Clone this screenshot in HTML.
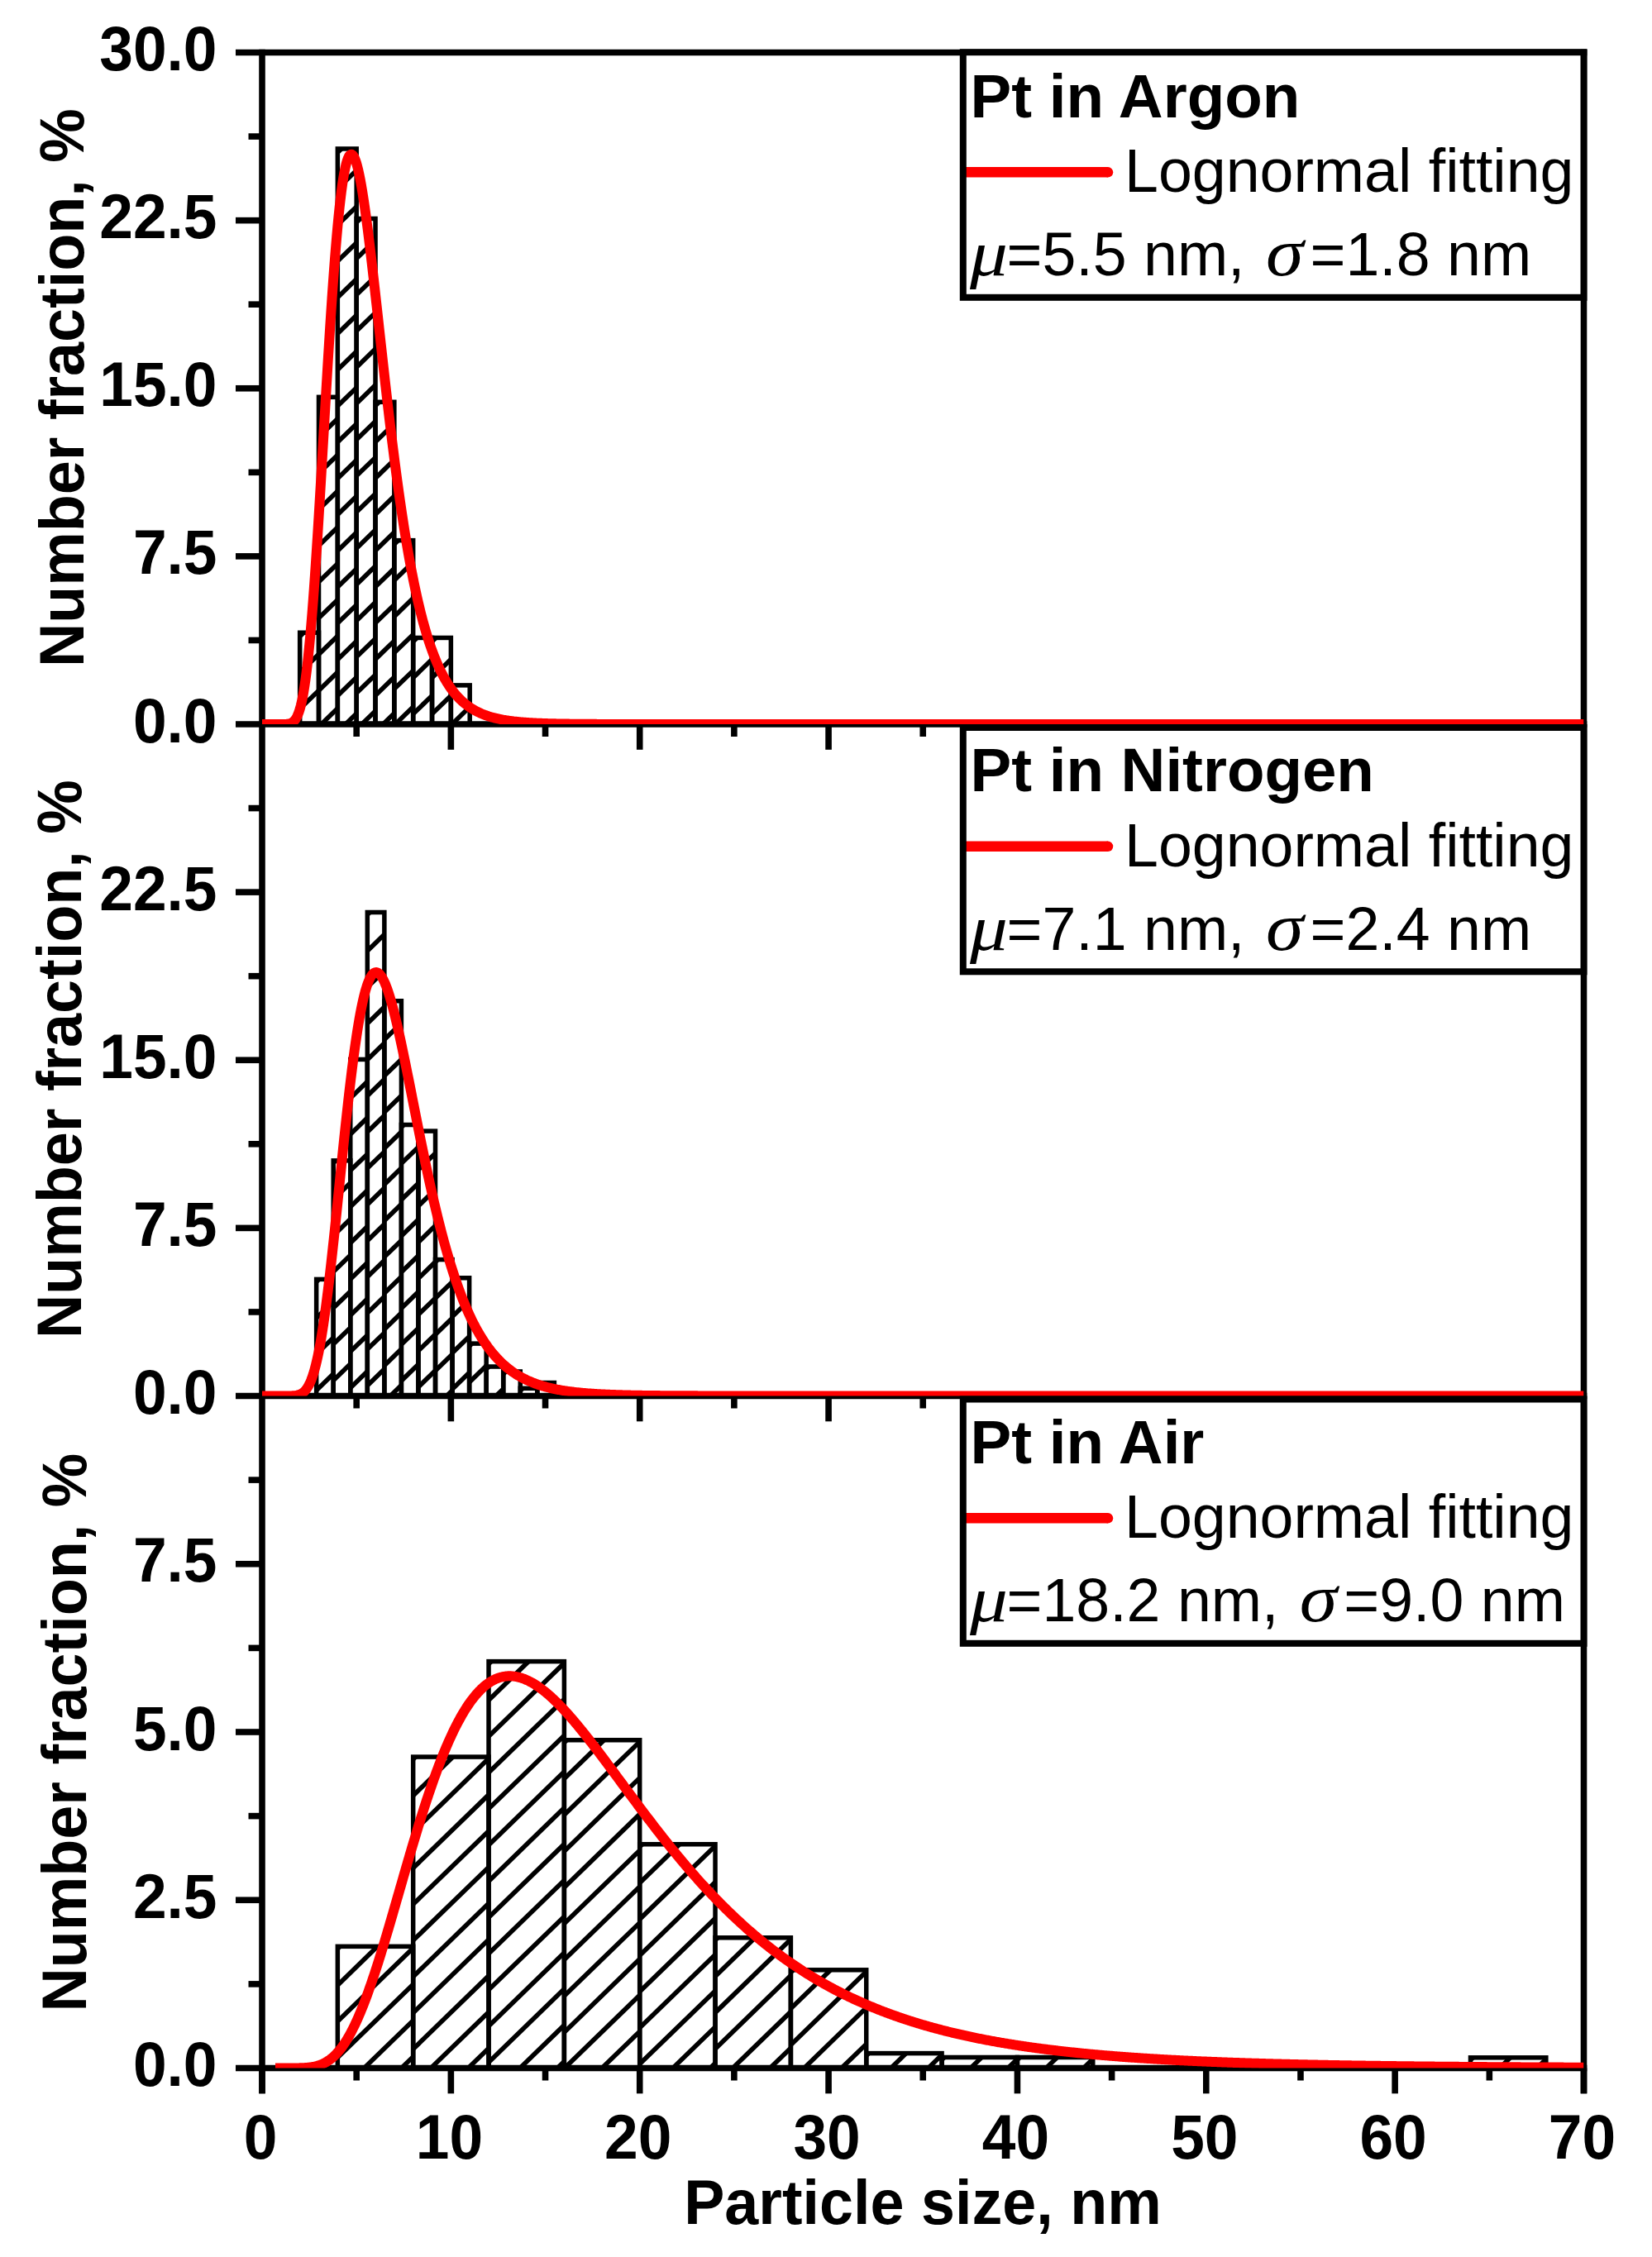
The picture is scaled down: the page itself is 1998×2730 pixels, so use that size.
<!DOCTYPE html>
<html lang="en"><head><meta charset="utf-8"><title>Pt particle size distributions</title>
<style>html,body{margin:0;padding:0;background:#fff}svg{display:block}</style></head>
<body>
<svg width="1998" height="2730" viewBox="0 0 1998 2730">
<rect width="1998" height="2730" fill="#fff"/>
<defs>
<clipPath id="cp0"><rect x="317.00" y="63.50" width="1598.50" height="812.50"/></clipPath>
<clipPath id="cp1"><rect x="317.00" y="876.00" width="1598.50" height="812.50"/></clipPath>
<clipPath id="cp2"><rect x="317.00" y="1688.50" width="1598.50" height="813.00"/></clipPath>
</defs>
<g stroke="#000" stroke-width="7.6" fill="none" stroke-linecap="butt">
<line x1="317.0" y1="59.7" x2="317.0" y2="2532.3"/>
<line x1="1915.5" y1="59.7" x2="1915.5" y2="2532.3"/>
<line x1="285.0" y1="63.5" x2="1919.3" y2="63.5"/>
<line x1="285.0" y1="876.0" x2="1919.3" y2="876.0"/>
<line x1="285.0" y1="672.88" x2="317.0" y2="672.88"/>
<line x1="285.0" y1="469.75" x2="317.0" y2="469.75"/>
<line x1="285.0" y1="266.62" x2="317.0" y2="266.62"/>
<line x1="300.5" y1="774.44" x2="317.0" y2="774.44"/>
<line x1="300.5" y1="571.31" x2="317.0" y2="571.31"/>
<line x1="300.5" y1="368.19" x2="317.0" y2="368.19"/>
<line x1="300.5" y1="165.06" x2="317.0" y2="165.06"/>
<line x1="431.18" y1="876.0" x2="431.18" y2="891.0"/>
<line x1="545.36" y1="876.0" x2="545.36" y2="906.8"/>
<line x1="659.54" y1="876.0" x2="659.54" y2="891.0"/>
<line x1="773.71" y1="876.0" x2="773.71" y2="906.8"/>
<line x1="887.89" y1="876.0" x2="887.89" y2="891.0"/>
<line x1="1002.07" y1="876.0" x2="1002.07" y2="906.8"/>
<line x1="1116.25" y1="876.0" x2="1116.25" y2="891.0"/>
<line x1="1230.43" y1="876.0" x2="1230.43" y2="906.8"/>
<line x1="1344.61" y1="876.0" x2="1344.61" y2="891.0"/>
<line x1="1458.79" y1="876.0" x2="1458.79" y2="906.8"/>
<line x1="1572.96" y1="876.0" x2="1572.96" y2="891.0"/>
<line x1="1687.14" y1="876.0" x2="1687.14" y2="906.8"/>
<line x1="1801.32" y1="876.0" x2="1801.32" y2="891.0"/>
<line x1="285.0" y1="1688.5" x2="1919.3" y2="1688.5"/>
<line x1="285.0" y1="1485.38" x2="317.0" y2="1485.38"/>
<line x1="285.0" y1="1282.25" x2="317.0" y2="1282.25"/>
<line x1="285.0" y1="1079.12" x2="317.0" y2="1079.12"/>
<line x1="300.5" y1="1586.94" x2="317.0" y2="1586.94"/>
<line x1="300.5" y1="1383.81" x2="317.0" y2="1383.81"/>
<line x1="300.5" y1="1180.69" x2="317.0" y2="1180.69"/>
<line x1="300.5" y1="977.56" x2="317.0" y2="977.56"/>
<line x1="431.18" y1="1688.5" x2="431.18" y2="1703.5"/>
<line x1="545.36" y1="1688.5" x2="545.36" y2="1719.3"/>
<line x1="659.54" y1="1688.5" x2="659.54" y2="1703.5"/>
<line x1="773.71" y1="1688.5" x2="773.71" y2="1719.3"/>
<line x1="887.89" y1="1688.5" x2="887.89" y2="1703.5"/>
<line x1="1002.07" y1="1688.5" x2="1002.07" y2="1719.3"/>
<line x1="1116.25" y1="1688.5" x2="1116.25" y2="1703.5"/>
<line x1="1230.43" y1="1688.5" x2="1230.43" y2="1719.3"/>
<line x1="1344.61" y1="1688.5" x2="1344.61" y2="1703.5"/>
<line x1="1458.79" y1="1688.5" x2="1458.79" y2="1719.3"/>
<line x1="1572.96" y1="1688.5" x2="1572.96" y2="1703.5"/>
<line x1="1687.14" y1="1688.5" x2="1687.14" y2="1719.3"/>
<line x1="1801.32" y1="1688.5" x2="1801.32" y2="1703.5"/>
<line x1="285.0" y1="2501.5" x2="1919.3" y2="2501.5"/>
<line x1="285.0" y1="2298.25" x2="317.0" y2="2298.25"/>
<line x1="285.0" y1="2095.00" x2="317.0" y2="2095.00"/>
<line x1="285.0" y1="1891.75" x2="317.0" y2="1891.75"/>
<line x1="300.5" y1="2399.88" x2="317.0" y2="2399.88"/>
<line x1="300.5" y1="2196.62" x2="317.0" y2="2196.62"/>
<line x1="300.5" y1="1993.38" x2="317.0" y2="1993.38"/>
<line x1="300.5" y1="1790.12" x2="317.0" y2="1790.12"/>
<line x1="317.00" y1="2501.5" x2="317.00" y2="2532.3"/>
<line x1="431.18" y1="2501.5" x2="431.18" y2="2516.5"/>
<line x1="545.36" y1="2501.5" x2="545.36" y2="2532.3"/>
<line x1="659.54" y1="2501.5" x2="659.54" y2="2516.5"/>
<line x1="773.71" y1="2501.5" x2="773.71" y2="2532.3"/>
<line x1="887.89" y1="2501.5" x2="887.89" y2="2516.5"/>
<line x1="1002.07" y1="2501.5" x2="1002.07" y2="2532.3"/>
<line x1="1116.25" y1="2501.5" x2="1116.25" y2="2516.5"/>
<line x1="1230.43" y1="2501.5" x2="1230.43" y2="2532.3"/>
<line x1="1344.61" y1="2501.5" x2="1344.61" y2="2516.5"/>
<line x1="1458.79" y1="2501.5" x2="1458.79" y2="2532.3"/>
<line x1="1572.96" y1="2501.5" x2="1572.96" y2="2516.5"/>
<line x1="1687.14" y1="2501.5" x2="1687.14" y2="2532.3"/>
<line x1="1801.32" y1="2501.5" x2="1801.32" y2="2516.5"/>
<line x1="1915.50" y1="2501.5" x2="1915.50" y2="2532.3"/>
</g>
<g clip-path="url(#cp0)">
<path d="M362.67 769.73L367.31 765.23M362.67 813.53L385.51 791.38M362.67 857.33L385.51 835.18M385.51 484.81L390.15 480.31M385.51 528.61L408.34 506.46M385.51 572.41L408.34 550.26M385.51 616.21L408.34 594.06M385.51 660.01L408.34 637.86M385.51 703.81L408.34 681.66M385.51 747.61L408.34 725.46M385.51 791.41L408.34 769.26M385.51 835.21L408.34 813.06M388.61 876.00L408.34 856.86M408.34 184.46L412.98 179.96M408.34 228.26L431.18 206.11M408.34 272.06L431.18 249.91M408.34 315.86L431.18 293.71M408.34 359.66L431.18 337.51M408.34 403.46L431.18 381.31M408.34 447.26L431.18 425.11M408.34 491.06L431.18 468.91M408.34 534.86L431.18 512.71M408.34 578.66L431.18 556.51M408.34 622.46L431.18 600.31M408.34 666.26L431.18 644.11M408.34 710.06L431.18 687.91M408.34 753.86L431.18 731.71M408.34 797.66L431.18 775.51M408.34 841.46L431.18 819.31M417.89 876.00L431.18 863.11M431.18 268.96L435.82 264.46M431.18 312.76L454.01 290.61M431.18 356.56L454.01 334.41M431.18 400.36L454.01 378.21M431.18 444.16L454.01 422.01M431.18 487.96L454.01 465.81M431.18 531.76L454.01 509.61M431.18 575.56L454.01 553.41M431.18 619.36L454.01 597.21M431.18 663.16L454.01 641.01M431.18 706.96L454.01 684.81M431.18 750.76L454.01 728.61M431.18 794.56L454.01 772.41M431.18 838.36L454.01 816.21M437.53 876.00L454.01 860.01M454.01 490.77L458.65 486.27M454.01 534.57L476.85 512.42M454.01 578.37L476.85 556.22M454.01 622.17L476.85 600.02M454.01 665.97L476.85 643.82M454.01 709.77L476.85 687.62M454.01 753.57L476.85 731.42M454.01 797.37L476.85 775.22M454.01 841.17L476.85 819.02M463.26 876.00L476.85 862.82M476.85 658.15L481.49 653.65M476.85 701.95L499.69 679.80M476.85 745.75L499.69 723.60M476.85 789.55L499.69 767.40M476.85 833.35L499.69 811.20M478.03 876.00L499.69 855.00M499.69 775.96L504.32 771.46M499.69 819.76L522.52 797.61M499.69 863.56L522.52 841.41M522.52 775.96L527.16 771.46M522.52 819.76L545.36 797.61M522.52 863.56L545.36 841.41M545.36 833.38L550.00 828.88M546.57 876.00L568.19 855.02" stroke="#000" stroke-width="5.6" fill="none" stroke-linecap="butt"/>
<g stroke="#000" stroke-width="5.5" fill="none" stroke-linejoin="miter"><rect x="362.67" y="765.23" width="22.84" height="110.77"/><rect x="385.51" y="480.31" width="22.84" height="395.69"/><rect x="408.34" y="179.96" width="22.84" height="696.04"/><rect x="431.18" y="264.46" width="22.84" height="611.54"/><rect x="454.01" y="486.27" width="22.84" height="389.73"/><rect x="476.85" y="653.65" width="22.84" height="222.35"/><rect x="499.69" y="771.46" width="22.84" height="104.54"/><rect x="522.52" y="771.46" width="22.84" height="104.54"/><rect x="545.36" y="828.88" width="22.84" height="47.12"/></g>
</g>
<g clip-path="url(#cp1)">
<path d="M382.65 1550.40L385.75 1547.40M382.65 1594.20L403.20 1574.26M382.65 1638.00L403.20 1618.06M382.65 1681.80L403.20 1661.86M403.20 1406.85L406.30 1403.85M403.20 1450.65L423.76 1430.72M403.20 1494.45L423.76 1474.52M403.20 1538.25L423.76 1518.32M403.20 1582.05L423.76 1562.12M403.20 1625.85L423.76 1605.92M403.20 1669.65L423.76 1649.72M423.76 1284.44L426.85 1281.44M423.76 1328.24L444.31 1308.30M423.76 1372.04L444.31 1352.10M423.76 1415.84L444.31 1395.90M423.76 1459.64L444.31 1439.70M423.76 1503.44L444.31 1483.50M423.76 1547.24L444.31 1527.30M423.76 1591.04L444.31 1571.10M423.76 1634.84L444.31 1614.90M423.76 1678.64L444.31 1658.70M444.31 1106.50L447.40 1103.50M444.31 1150.30L464.86 1130.36M444.31 1194.10L464.86 1174.16M444.31 1237.90L464.86 1217.96M444.31 1281.70L464.86 1261.76M444.31 1325.50L464.86 1305.56M444.31 1369.30L464.86 1349.36M444.31 1413.10L464.86 1393.16M444.31 1456.90L464.86 1436.96M444.31 1500.70L464.86 1480.76M444.31 1544.50L464.86 1524.56M444.31 1588.30L464.86 1568.36M444.31 1632.10L464.86 1612.16M444.31 1675.90L464.86 1655.96M464.86 1213.75L467.95 1210.75M464.86 1257.55L485.41 1237.61M464.86 1301.35L485.41 1281.41M464.86 1345.15L485.41 1325.21M464.86 1388.95L485.41 1369.01M464.86 1432.75L485.41 1412.81M464.86 1476.55L485.41 1456.61M464.86 1520.35L485.41 1500.41M464.86 1564.15L485.41 1544.21M464.86 1607.95L485.41 1588.01M464.86 1651.75L485.41 1631.81M472.13 1688.50L485.41 1675.61M485.41 1363.52L488.51 1360.52M485.41 1407.32L505.97 1387.39M485.41 1451.12L505.97 1431.19M485.41 1494.92L505.97 1474.99M485.41 1538.72L505.97 1518.79M485.41 1582.52L505.97 1562.59M485.41 1626.32L505.97 1606.39M485.41 1670.12L505.97 1650.19M505.97 1371.10L509.06 1368.10M505.97 1414.90L526.52 1394.97M505.97 1458.70L526.52 1438.77M505.97 1502.50L526.52 1482.57M505.97 1546.30L526.52 1526.37M505.97 1590.10L526.52 1570.17M505.97 1633.90L526.52 1613.97M505.97 1677.70L526.52 1657.77M526.52 1526.56L529.61 1523.56M526.52 1570.36L547.07 1550.43M526.52 1614.16L547.07 1594.23M526.52 1657.96L547.07 1638.03M540.19 1688.50L547.07 1681.83M547.07 1548.77L550.16 1545.77M547.07 1592.57L567.62 1572.64M547.07 1636.37L567.62 1616.44M547.07 1680.17L567.62 1660.24M567.62 1628.12L570.71 1625.12M567.62 1671.92L588.17 1651.99M588.17 1656.02L591.27 1653.02M599.85 1688.50L608.73 1679.89M608.73 1661.98L611.82 1658.98M626.54 1688.50L629.28 1685.84M629.28 1682.29L632.37 1679.29M649.83 1675.52L652.92 1672.52" stroke="#000" stroke-width="5.6" fill="none" stroke-linecap="butt"/>
<g stroke="#000" stroke-width="5.5" fill="none" stroke-linejoin="miter"><rect x="382.65" y="1547.40" width="20.55" height="141.10"/><rect x="403.20" y="1403.85" width="20.55" height="284.65"/><rect x="423.76" y="1281.44" width="20.55" height="407.06"/><rect x="444.31" y="1103.50" width="20.55" height="585.00"/><rect x="464.86" y="1210.75" width="20.55" height="477.75"/><rect x="485.41" y="1360.52" width="20.55" height="327.98"/><rect x="505.97" y="1368.10" width="20.55" height="320.40"/><rect x="526.52" y="1523.56" width="20.55" height="164.94"/><rect x="547.07" y="1545.77" width="20.55" height="142.73"/><rect x="567.62" y="1625.12" width="20.55" height="63.38"/><rect x="588.17" y="1653.02" width="20.55" height="35.48"/><rect x="608.73" y="1658.98" width="20.55" height="29.52"/><rect x="629.28" y="1679.29" width="20.55" height="9.21"/><rect x="649.83" y="1672.52" width="20.55" height="15.98"/></g>
</g>
<g clip-path="url(#cp2)">
<path d="M408.34 2357.35L411.44 2354.35M408.34 2401.15L456.59 2354.35M408.34 2444.95L499.69 2356.34M408.34 2488.75L499.69 2400.14M440.35 2501.50L499.69 2443.94M485.50 2501.50L499.69 2487.74M499.69 2128.08L502.78 2125.08M499.69 2171.88L547.93 2125.08M499.69 2215.68L591.03 2127.08M499.69 2259.48L591.03 2170.88M499.69 2303.28L591.03 2214.68M499.69 2347.08L591.03 2258.48M499.69 2390.88L591.03 2302.28M499.69 2434.68L591.03 2346.08M499.69 2478.48L591.03 2389.88M521.11 2501.50L591.03 2433.68M566.26 2501.50L591.03 2477.48M591.03 2012.63L594.12 2009.63M591.03 2056.43L639.28 2009.63M591.03 2100.24L682.37 2011.63M591.03 2144.03L682.37 2055.43M591.03 2187.84L682.37 2099.23M591.03 2231.64L682.37 2143.03M591.03 2275.43L682.37 2186.83M591.03 2319.24L682.37 2230.63M591.03 2363.03L682.37 2274.43M591.03 2406.84L682.37 2318.23M591.03 2450.64L682.37 2362.03M591.03 2494.43L682.37 2405.83M628.90 2501.50L682.37 2449.63M674.05 2501.50L682.37 2493.43M682.37 2107.76L685.46 2104.76M682.37 2151.56L730.62 2104.76M682.37 2195.36L773.71 2106.75M682.37 2239.16L773.71 2150.55M682.37 2282.96L773.71 2194.35M682.37 2326.76L773.71 2238.15M682.37 2370.56L773.71 2281.95M682.37 2414.36L773.71 2325.75M682.37 2458.16L773.71 2369.55M682.84 2501.50L773.71 2413.35M728.00 2501.50L773.71 2457.15M773.15 2501.50L773.71 2500.95M773.71 2233.77L776.81 2230.77M773.71 2277.57L821.96 2230.77M773.71 2321.37L865.06 2232.77M773.71 2365.17L865.06 2276.57M773.71 2408.97L865.06 2320.37M773.71 2452.77L865.06 2364.17M773.71 2496.57L865.06 2407.97M813.79 2501.50L865.06 2451.77M858.94 2501.50L865.06 2495.57M865.06 2346.78L868.15 2343.78M865.06 2390.58L913.30 2343.78M865.06 2434.38L956.40 2345.78M865.06 2478.18L956.40 2389.58M886.17 2501.50L956.40 2433.38M931.32 2501.50L956.40 2477.18M956.40 2385.80L959.49 2382.80M956.40 2429.60L1004.65 2382.80M956.40 2473.40L1047.74 2384.80M972.59 2501.50L1047.74 2428.60M1017.74 2501.50L1047.74 2472.40M1047.74 2486.61L1050.84 2483.61M1077.55 2501.50L1095.99 2483.61M1122.71 2501.50L1139.09 2485.61M1139.09 2491.49L1142.18 2488.49M1173.92 2501.50L1187.33 2488.49M1219.08 2501.50L1230.43 2490.49M1230.43 2491.49L1233.52 2488.49M1265.27 2501.50L1278.68 2488.49M1310.42 2501.50L1321.77 2490.49M1778.49 2491.82L1781.58 2488.82M1813.66 2501.50L1826.73 2488.82M1858.81 2501.50L1869.83 2490.81" stroke="#000" stroke-width="5.6" fill="none" stroke-linecap="butt"/>
<g stroke="#000" stroke-width="5.5" fill="none" stroke-linejoin="miter"><rect x="408.34" y="2354.35" width="91.34" height="147.15"/><rect x="499.69" y="2125.08" width="91.34" height="376.42"/><rect x="591.03" y="2009.63" width="91.34" height="491.87"/><rect x="682.37" y="2104.76" width="91.34" height="396.74"/><rect x="773.71" y="2230.77" width="91.34" height="270.73"/><rect x="865.06" y="2343.78" width="91.34" height="157.72"/><rect x="956.40" y="2382.80" width="91.34" height="118.70"/><rect x="1047.74" y="2483.61" width="91.34" height="17.89"/><rect x="1139.09" y="2488.49" width="91.34" height="13.01"/><rect x="1230.43" y="2488.49" width="91.34" height="13.01"/><rect x="1778.49" y="2488.82" width="91.34" height="12.68"/></g>
</g>
<polyline clip-path="url(#cp0)" points="317.00,876.00 318.14,876.00 319.28,876.00 320.43,876.00 321.57,876.00 322.71,876.00 323.85,876.00 324.99,876.00 326.13,876.00 327.28,876.00 328.42,876.00 329.56,876.00 330.70,876.00 331.84,876.00 332.99,876.00 334.13,876.00 335.27,876.00 336.41,876.00 337.55,876.00 338.69,876.00 339.84,876.00 340.98,875.99 342.12,875.98 343.26,875.96 344.40,875.93 345.54,875.88 346.69,875.81 347.83,875.69 348.97,875.52 350.11,875.27 351.25,874.92 352.40,874.45 353.54,873.82 354.68,872.98 355.82,871.91 356.96,870.55 358.10,868.86 359.25,866.77 360.39,864.25 361.53,861.22 362.67,857.64 363.81,853.46 364.95,848.61 366.10,843.06 367.24,836.75 368.38,829.65 369.52,821.74 370.66,812.97 371.81,803.34 372.95,792.83 374.09,781.45 375.23,769.21 376.37,756.11 377.51,742.18 378.66,727.45 379.80,711.97 380.94,695.79 382.08,678.94 383.22,661.50 384.37,643.53 385.51,625.10 386.65,606.28 387.79,587.15 388.93,567.78 390.07,548.26 391.22,528.66 392.36,509.06 393.50,489.54 394.64,470.17 395.78,451.04 396.93,432.22 398.07,413.76 399.21,395.74 400.35,378.23 401.49,361.26 402.63,344.91 403.78,329.22 404.92,314.22 406.06,299.97 407.20,286.48 408.34,273.81 409.48,261.96 410.63,250.95 411.77,240.81 412.91,231.55 414.05,223.17 415.19,215.67 416.34,209.05 417.48,203.32 418.62,198.46 419.76,194.45 420.90,191.30 422.04,188.98 423.19,187.47 424.33,186.75 425.47,186.80 426.61,187.60 427.75,189.12 428.89,191.33 430.04,194.20 431.18,197.72 432.32,201.84 433.46,206.53 434.60,211.78 435.75,217.53 436.89,223.78 438.03,230.48 439.17,237.60 440.31,245.13 441.45,253.01 442.60,261.24 443.74,269.77 444.88,278.58 446.02,287.65 447.16,296.95 448.31,306.45 449.45,316.13 450.59,325.96 451.73,335.92 452.87,346.00 454.01,356.16 455.16,366.40 456.30,376.68 457.44,387.00 458.58,397.33 459.72,407.66 460.87,417.98 462.01,428.27 463.15,438.51 464.29,448.70 465.43,458.82 466.57,468.86 467.72,478.81 468.86,488.67 470.00,498.41 471.14,508.05 472.28,517.56 473.42,526.94 474.57,536.20 475.71,545.31 476.85,554.27 477.99,563.09 479.13,571.76 480.28,580.27 481.42,588.63 482.56,596.82 483.70,604.86 484.84,612.73 485.98,620.44 487.13,627.98 488.27,635.36 489.41,642.57 490.55,649.62 491.69,656.51 492.84,663.23 493.98,669.79 495.12,676.19 496.26,682.43 497.40,688.51 498.54,694.44 499.69,700.21 500.83,705.83 501.97,711.29 503.11,716.61 504.25,721.79 505.39,726.82 506.54,731.71 507.68,736.46 508.82,741.07 509.96,745.55 511.10,749.90 512.25,754.13 513.39,758.22 514.53,762.20 515.67,766.05 516.81,769.79 517.95,773.41 519.10,776.92 520.24,780.33 521.38,783.62 522.52,786.81 523.66,789.91 524.80,792.90 525.95,795.80 527.09,798.60 528.23,801.31 529.37,803.94 530.51,806.47 531.66,808.93 532.80,811.30 533.94,813.60 535.08,815.82 536.22,817.96 537.36,820.04 538.51,822.04 539.65,823.97 540.79,825.84 541.93,827.65 543.07,829.39 544.22,831.07 545.36,832.70 546.50,834.27 547.64,835.78 548.78,837.24 549.92,838.65 551.07,840.02 552.21,841.33 553.35,842.60 554.49,843.82 555.63,845.00 556.77,846.14 557.92,847.23 559.06,848.29 560.20,849.31 561.34,850.30 562.48,851.24 563.63,852.16 564.77,853.04 565.91,853.89 567.05,854.71 568.19,855.50 569.33,856.26 570.48,856.99 571.62,857.70 572.76,858.38 573.90,859.03 575.04,859.66 576.19,860.27 577.33,860.86 578.47,861.42 579.61,861.97 580.75,862.49 581.89,863.00 583.04,863.48 584.18,863.95 585.32,864.40 586.46,864.83 587.60,865.25 588.75,865.66 589.89,866.04 591.03,866.42 592.17,866.77 593.31,867.12 594.45,867.45 595.60,867.77 596.74,868.08 597.88,868.38 599.02,868.67 600.16,868.94 601.30,869.21 602.45,869.46 603.59,869.71 604.73,869.94 605.87,870.17 607.01,870.39 608.16,870.60 609.30,870.80 610.44,871.00 611.58,871.19 612.72,871.37 613.86,871.54 615.01,871.71 616.15,871.87 617.29,872.03 618.43,872.17 619.57,872.32 620.72,872.46 621.86,872.59 623.00,872.72 624.14,872.84 625.28,872.96 626.42,873.07 627.57,873.18 628.71,873.29 629.85,873.39 630.99,873.49 632.13,873.58 633.27,873.67 634.42,873.76 635.56,873.84 636.70,873.92 637.84,874.00 638.98,874.08 640.13,874.15 641.27,874.22 642.41,874.28 643.55,874.35 644.69,874.41 645.83,874.47 646.98,874.53 648.12,874.58 649.26,874.63 650.40,874.69 651.54,874.73 652.68,874.78 653.83,874.83 654.97,874.87 656.11,874.91 657.25,874.95 658.39,874.99 659.54,875.03 660.68,875.07 661.82,875.10 662.96,875.13 664.10,875.17 665.24,875.20 666.39,875.23 667.53,875.26 668.67,875.28 669.81,875.31 670.95,875.34 672.10,875.36 673.24,875.38 674.38,875.41 675.52,875.43 676.66,875.45 677.80,875.47 678.95,875.49 680.09,875.51 681.23,875.53 682.37,875.54 683.51,875.56 684.65,875.58 685.80,875.59 686.94,875.61 688.08,875.62 689.22,875.64 690.36,875.65 691.51,875.66 692.65,875.67 693.79,875.69 694.93,875.70 696.07,875.71 697.21,875.72 698.36,875.73 699.50,875.74 700.64,875.75 701.78,875.76 702.92,875.77 704.07,875.78 705.21,875.78 706.35,875.79 707.49,875.80 708.63,875.81 709.77,875.81 710.92,875.82 712.06,875.83 713.20,875.83 714.34,875.84 715.48,875.84 716.62,875.85 717.77,875.86 718.91,875.86 720.05,875.87 721.19,875.87 722.33,875.88 723.48,875.88 724.62,875.88 725.76,875.89 726.90,875.89 728.04,875.90 729.18,875.90 730.33,875.90 731.47,875.91 732.61,875.91 733.75,875.91 734.89,875.92 736.04,875.92 737.18,875.92 738.32,875.93 739.46,875.93 740.60,875.93 741.74,875.93 742.89,875.94 744.03,875.94 745.17,875.94 746.31,875.94 747.45,875.94 748.60,875.95 749.74,875.95 750.88,875.95 752.02,875.95 753.16,875.95 754.30,875.95 755.45,875.96 756.59,875.96 757.73,875.96 758.87,875.96 760.01,875.96 761.15,875.96 762.30,875.96 763.44,875.97 764.58,875.97 765.72,875.97 766.86,875.97 768.01,875.97 769.15,875.97 770.29,875.97 771.43,875.97 772.57,875.97 773.71,875.98 774.86,875.98 776.00,875.98 777.14,875.98 778.28,875.98 779.42,875.98 780.57,875.98 781.71,875.98 782.85,875.98 783.99,875.98 785.13,875.98 786.27,875.98 787.42,875.98 788.56,875.98 789.70,875.98 790.84,875.99 791.98,875.99 793.12,875.99 794.27,875.99 795.41,875.99 796.55,875.99 797.69,875.99 798.83,875.99 799.98,875.99 801.12,875.99 802.26,875.99 803.40,875.99 804.54,875.99 805.68,875.99 806.83,875.99 807.97,875.99 809.11,875.99 810.25,875.99 811.39,875.99 812.53,875.99 813.68,875.99 814.82,875.99 815.96,875.99 817.10,875.99 818.24,875.99 819.39,875.99 820.53,875.99 821.67,875.99 822.81,875.99 823.95,875.99 825.09,875.99 826.24,876.00 827.38,876.00 828.52,876.00 829.66,876.00 830.80,876.00 831.95,876.00 833.09,876.00 834.23,876.00 835.37,876.00 836.51,876.00 837.65,876.00 838.80,876.00 839.94,876.00 841.08,876.00 842.22,876.00 843.36,876.00 844.50,876.00 845.65,876.00 846.79,876.00 847.93,876.00 849.07,876.00 850.21,876.00 851.36,876.00 852.50,876.00 853.64,876.00 854.78,876.00 855.92,876.00 857.06,876.00 858.21,876.00 859.35,876.00 860.49,876.00 861.63,876.00 862.77,876.00 863.92,876.00 865.06,876.00 866.20,876.00 867.34,876.00 868.48,876.00 869.62,876.00 870.77,876.00 871.91,876.00 873.05,876.00 874.19,876.00 875.33,876.00 876.48,876.00 877.62,876.00 878.76,876.00 879.90,876.00 881.04,876.00 882.18,876.00 883.33,876.00 884.47,876.00 885.61,876.00 886.75,876.00 887.89,876.00 889.03,876.00 890.18,876.00 891.32,876.00 892.46,876.00 893.60,876.00 894.74,876.00 895.89,876.00 897.03,876.00 898.17,876.00 899.31,876.00 900.45,876.00 901.59,876.00 902.74,876.00 903.88,876.00 905.02,876.00 906.16,876.00 907.30,876.00 908.44,876.00 909.59,876.00 910.73,876.00 911.87,876.00 913.01,876.00 914.15,876.00 915.30,876.00 916.44,876.00 917.58,876.00 918.72,876.00 919.86,876.00 921.00,876.00 922.15,876.00 923.29,876.00 924.43,876.00 925.57,876.00 926.71,876.00 927.86,876.00 929.00,876.00 930.14,876.00 931.28,876.00 932.42,876.00 933.56,876.00 934.71,876.00 935.85,876.00 936.99,876.00 938.13,876.00 939.27,876.00 940.41,876.00 941.56,876.00 942.70,876.00 943.84,876.00 944.98,876.00 946.12,876.00 947.27,876.00 948.41,876.00 949.55,876.00 950.69,876.00 951.83,876.00 952.97,876.00 954.12,876.00 955.26,876.00 956.40,876.00 957.54,876.00 958.68,876.00 959.83,876.00 960.97,876.00 962.11,876.00 963.25,876.00 964.39,876.00 965.53,876.00 966.68,876.00 967.82,876.00 968.96,876.00 970.10,876.00 971.24,876.00 972.38,876.00 973.53,876.00 974.67,876.00 975.81,876.00 976.95,876.00 978.09,876.00 979.24,876.00 980.38,876.00 981.52,876.00 982.66,876.00 983.80,876.00 984.94,876.00 986.09,876.00 987.23,876.00 988.37,876.00 989.51,876.00 990.65,876.00 991.80,876.00 992.94,876.00 994.08,876.00 995.22,876.00 996.36,876.00 997.50,876.00 998.65,876.00 999.79,876.00 1000.93,876.00 1002.07,876.00 1003.21,876.00 1004.36,876.00 1005.50,876.00 1006.64,876.00 1007.78,876.00 1008.92,876.00 1010.06,876.00 1011.21,876.00 1012.35,876.00 1013.49,876.00 1014.63,876.00 1015.77,876.00 1016.91,876.00 1018.06,876.00 1019.20,876.00 1020.34,876.00 1021.48,876.00 1022.62,876.00 1023.77,876.00 1024.91,876.00 1026.05,876.00 1027.19,876.00 1028.33,876.00 1029.47,876.00 1030.62,876.00 1031.76,876.00 1032.90,876.00 1034.04,876.00 1035.18,876.00 1036.33,876.00 1037.47,876.00 1038.61,876.00 1039.75,876.00 1040.89,876.00 1042.03,876.00 1043.18,876.00 1044.32,876.00 1045.46,876.00 1046.60,876.00 1047.74,876.00 1048.88,876.00 1050.03,876.00 1051.17,876.00 1052.31,876.00 1053.45,876.00 1054.59,876.00 1055.74,876.00 1056.88,876.00 1058.02,876.00 1059.16,876.00 1060.30,876.00 1061.44,876.00 1062.59,876.00 1063.73,876.00 1064.87,876.00 1066.01,876.00 1067.15,876.00 1068.30,876.00 1069.44,876.00 1070.58,876.00 1071.72,876.00 1072.86,876.00 1074.00,876.00 1075.15,876.00 1076.29,876.00 1077.43,876.00 1078.57,876.00 1079.71,876.00 1080.85,876.00 1082.00,876.00 1083.14,876.00 1084.28,876.00 1085.42,876.00 1086.56,876.00 1087.71,876.00 1088.85,876.00 1089.99,876.00 1091.13,876.00 1092.27,876.00 1093.41,876.00 1094.56,876.00 1095.70,876.00 1096.84,876.00 1097.98,876.00 1099.12,876.00 1100.26,876.00 1101.41,876.00 1102.55,876.00 1103.69,876.00 1104.83,876.00 1105.97,876.00 1107.12,876.00 1108.26,876.00 1109.40,876.00 1110.54,876.00 1111.68,876.00 1112.82,876.00 1113.97,876.00 1115.11,876.00 1116.25,876.00 1117.39,876.00 1118.53,876.00 1119.68,876.00 1120.82,876.00 1121.96,876.00 1123.10,876.00 1124.24,876.00 1125.38,876.00 1126.53,876.00 1127.67,876.00 1128.81,876.00 1129.95,876.00 1131.09,876.00 1132.24,876.00 1133.38,876.00 1134.52,876.00 1135.66,876.00 1136.80,876.00 1137.94,876.00 1139.09,876.00 1140.23,876.00 1141.37,876.00 1142.51,876.00 1143.65,876.00 1144.79,876.00 1145.94,876.00 1147.08,876.00 1148.22,876.00 1149.36,876.00 1150.50,876.00 1151.65,876.00 1152.79,876.00 1153.93,876.00 1155.07,876.00 1156.21,876.00 1157.35,876.00 1158.50,876.00 1159.64,876.00 1160.78,876.00 1161.92,876.00 1163.06,876.00 1164.20,876.00 1165.35,876.00 1166.49,876.00 1167.63,876.00 1168.77,876.00 1169.91,876.00 1171.06,876.00 1172.20,876.00 1173.34,876.00 1174.48,876.00 1175.62,876.00 1176.76,876.00 1177.91,876.00 1179.05,876.00 1180.19,876.00 1181.33,876.00 1182.47,876.00 1183.62,876.00 1184.76,876.00 1185.90,876.00 1187.04,876.00 1188.18,876.00 1189.32,876.00 1190.47,876.00 1191.61,876.00 1192.75,876.00 1193.89,876.00 1195.03,876.00 1196.17,876.00 1197.32,876.00 1198.46,876.00 1199.60,876.00 1200.74,876.00 1201.88,876.00 1203.03,876.00 1204.17,876.00 1205.31,876.00 1206.45,876.00 1207.59,876.00 1208.73,876.00 1209.88,876.00 1211.02,876.00 1212.16,876.00 1213.30,876.00 1214.44,876.00 1215.59,876.00 1216.73,876.00 1217.87,876.00 1219.01,876.00 1220.15,876.00 1221.29,876.00 1222.44,876.00 1223.58,876.00 1224.72,876.00 1225.86,876.00 1227.00,876.00 1228.14,876.00 1229.29,876.00 1230.43,876.00 1231.57,876.00 1232.71,876.00 1233.85,876.00 1235.00,876.00 1236.14,876.00 1237.28,876.00 1238.42,876.00 1239.56,876.00 1240.70,876.00 1241.85,876.00 1242.99,876.00 1244.13,876.00 1245.27,876.00 1246.41,876.00 1247.56,876.00 1248.70,876.00 1249.84,876.00 1250.98,876.00 1252.12,876.00 1253.26,876.00 1254.41,876.00 1255.55,876.00 1256.69,876.00 1257.83,876.00 1258.97,876.00 1260.11,876.00 1261.26,876.00 1262.40,876.00 1263.54,876.00 1264.68,876.00 1265.82,876.00 1266.97,876.00 1268.11,876.00 1269.25,876.00 1270.39,876.00 1271.53,876.00 1272.67,876.00 1273.82,876.00 1274.96,876.00 1276.10,876.00 1277.24,876.00 1278.38,876.00 1279.53,876.00 1280.67,876.00 1281.81,876.00 1282.95,876.00 1284.09,876.00 1285.23,876.00 1286.38,876.00 1287.52,876.00 1288.66,876.00 1289.80,876.00 1290.94,876.00 1292.09,876.00 1293.23,876.00 1294.37,876.00 1295.51,876.00 1296.65,876.00 1297.79,876.00 1298.94,876.00 1300.08,876.00 1301.22,876.00 1302.36,876.00 1303.50,876.00 1304.64,876.00 1305.79,876.00 1306.93,876.00 1308.07,876.00 1309.21,876.00 1310.35,876.00 1311.50,876.00 1312.64,876.00 1313.78,876.00 1314.92,876.00 1316.06,876.00 1317.20,876.00 1318.35,876.00 1319.49,876.00 1320.63,876.00 1321.77,876.00 1322.91,876.00 1324.06,876.00 1325.20,876.00 1326.34,876.00 1327.48,876.00 1328.62,876.00 1329.76,876.00 1330.91,876.00 1332.05,876.00 1333.19,876.00 1334.33,876.00 1335.47,876.00 1336.61,876.00 1337.76,876.00 1338.90,876.00 1340.04,876.00 1341.18,876.00 1342.32,876.00 1343.47,876.00 1344.61,876.00 1345.75,876.00 1346.89,876.00 1348.03,876.00 1349.17,876.00 1350.32,876.00 1351.46,876.00 1352.60,876.00 1353.74,876.00 1354.88,876.00 1356.03,876.00 1357.17,876.00 1358.31,876.00 1359.45,876.00 1360.59,876.00 1361.73,876.00 1362.88,876.00 1364.02,876.00 1365.16,876.00 1366.30,876.00 1367.44,876.00 1368.58,876.00 1369.73,876.00 1370.87,876.00 1372.01,876.00 1373.15,876.00 1374.29,876.00 1375.44,876.00 1376.58,876.00 1377.72,876.00 1378.86,876.00 1380.00,876.00 1381.14,876.00 1382.29,876.00 1383.43,876.00 1384.57,876.00 1385.71,876.00 1386.85,876.00 1387.99,876.00 1389.14,876.00 1390.28,876.00 1391.42,876.00 1392.56,876.00 1393.70,876.00 1394.85,876.00 1395.99,876.00 1397.13,876.00 1398.27,876.00 1399.41,876.00 1400.55,876.00 1401.70,876.00 1402.84,876.00 1403.98,876.00 1405.12,876.00 1406.26,876.00 1407.41,876.00 1408.55,876.00 1409.69,876.00 1410.83,876.00 1411.97,876.00 1413.11,876.00 1414.26,876.00 1415.40,876.00 1416.54,876.00 1417.68,876.00 1418.82,876.00 1419.96,876.00 1421.11,876.00 1422.25,876.00 1423.39,876.00 1424.53,876.00 1425.67,876.00 1426.82,876.00 1427.96,876.00 1429.10,876.00 1430.24,876.00 1431.38,876.00 1432.52,876.00 1433.67,876.00 1434.81,876.00 1435.95,876.00 1437.09,876.00 1438.23,876.00 1439.38,876.00 1440.52,876.00 1441.66,876.00 1442.80,876.00 1443.94,876.00 1445.08,876.00 1446.23,876.00 1447.37,876.00 1448.51,876.00 1449.65,876.00 1450.79,876.00 1451.93,876.00 1453.08,876.00 1454.22,876.00 1455.36,876.00 1456.50,876.00 1457.64,876.00 1458.79,876.00 1459.93,876.00 1461.07,876.00 1462.21,876.00 1463.35,876.00 1464.49,876.00 1465.64,876.00 1466.78,876.00 1467.92,876.00 1469.06,876.00 1470.20,876.00 1471.35,876.00 1472.49,876.00 1473.63,876.00 1474.77,876.00 1475.91,876.00 1477.05,876.00 1478.20,876.00 1479.34,876.00 1480.48,876.00 1481.62,876.00 1482.76,876.00 1483.90,876.00 1485.05,876.00 1486.19,876.00 1487.33,876.00 1488.47,876.00 1489.61,876.00 1490.76,876.00 1491.90,876.00 1493.04,876.00 1494.18,876.00 1495.32,876.00 1496.46,876.00 1497.61,876.00 1498.75,876.00 1499.89,876.00 1501.03,876.00 1502.17,876.00 1503.32,876.00 1504.46,876.00 1505.60,876.00 1506.74,876.00 1507.88,876.00 1509.02,876.00 1510.17,876.00 1511.31,876.00 1512.45,876.00 1513.59,876.00 1514.73,876.00 1515.88,876.00 1517.02,876.00 1518.16,876.00 1519.30,876.00 1520.44,876.00 1521.58,876.00 1522.73,876.00 1523.87,876.00 1525.01,876.00 1526.15,876.00 1527.29,876.00 1528.43,876.00 1529.58,876.00 1530.72,876.00 1531.86,876.00 1533.00,876.00 1534.14,876.00 1535.29,876.00 1536.43,876.00 1537.57,876.00 1538.71,876.00 1539.85,876.00 1540.99,876.00 1542.14,876.00 1543.28,876.00 1544.42,876.00 1545.56,876.00 1546.70,876.00 1547.85,876.00 1548.99,876.00 1550.13,876.00 1551.27,876.00 1552.41,876.00 1553.55,876.00 1554.70,876.00 1555.84,876.00 1556.98,876.00 1558.12,876.00 1559.26,876.00 1560.40,876.00 1561.55,876.00 1562.69,876.00 1563.83,876.00 1564.97,876.00 1566.11,876.00 1567.26,876.00 1568.40,876.00 1569.54,876.00 1570.68,876.00 1571.82,876.00 1572.96,876.00 1574.11,876.00 1575.25,876.00 1576.39,876.00 1577.53,876.00 1578.67,876.00 1579.81,876.00 1580.96,876.00 1582.10,876.00 1583.24,876.00 1584.38,876.00 1585.52,876.00 1586.67,876.00 1587.81,876.00 1588.95,876.00 1590.09,876.00 1591.23,876.00 1592.37,876.00 1593.52,876.00 1594.66,876.00 1595.80,876.00 1596.94,876.00 1598.08,876.00 1599.23,876.00 1600.37,876.00 1601.51,876.00 1602.65,876.00 1603.79,876.00 1604.93,876.00 1606.08,876.00 1607.22,876.00 1608.36,876.00 1609.50,876.00 1610.64,876.00 1611.79,876.00 1612.93,876.00 1614.07,876.00 1615.21,876.00 1616.35,876.00 1617.49,876.00 1618.64,876.00 1619.78,876.00 1620.92,876.00 1622.06,876.00 1623.20,876.00 1624.34,876.00 1625.49,876.00 1626.63,876.00 1627.77,876.00 1628.91,876.00 1630.05,876.00 1631.20,876.00 1632.34,876.00 1633.48,876.00 1634.62,876.00 1635.76,876.00 1636.90,876.00 1638.05,876.00 1639.19,876.00 1640.33,876.00 1641.47,876.00 1642.61,876.00 1643.76,876.00 1644.90,876.00 1646.04,876.00 1647.18,876.00 1648.32,876.00 1649.46,876.00 1650.61,876.00 1651.75,876.00 1652.89,876.00 1654.03,876.00 1655.17,876.00 1656.31,876.00 1657.46,876.00 1658.60,876.00 1659.74,876.00 1660.88,876.00 1662.02,876.00 1663.17,876.00 1664.31,876.00 1665.45,876.00 1666.59,876.00 1667.73,876.00 1668.87,876.00 1670.02,876.00 1671.16,876.00 1672.30,876.00 1673.44,876.00 1674.58,876.00 1675.72,876.00 1676.87,876.00 1678.01,876.00 1679.15,876.00 1680.29,876.00 1681.43,876.00 1682.58,876.00 1683.72,876.00 1684.86,876.00 1686.00,876.00 1687.14,876.00 1688.28,876.00 1689.43,876.00 1690.57,876.00 1691.71,876.00 1692.85,876.00 1693.99,876.00 1695.14,876.00 1696.28,876.00 1697.42,876.00 1698.56,876.00 1699.70,876.00 1700.84,876.00 1701.99,876.00 1703.13,876.00 1704.27,876.00 1705.41,876.00 1706.55,876.00 1707.69,876.00 1708.84,876.00 1709.98,876.00 1711.12,876.00 1712.26,876.00 1713.40,876.00 1714.55,876.00 1715.69,876.00 1716.83,876.00 1717.97,876.00 1719.11,876.00 1720.25,876.00 1721.40,876.00 1722.54,876.00 1723.68,876.00 1724.82,876.00 1725.96,876.00 1727.11,876.00 1728.25,876.00 1729.39,876.00 1730.53,876.00 1731.67,876.00 1732.81,876.00 1733.96,876.00 1735.10,876.00 1736.24,876.00 1737.38,876.00 1738.52,876.00 1739.66,876.00 1740.81,876.00 1741.95,876.00 1743.09,876.00 1744.23,876.00 1745.37,876.00 1746.52,876.00 1747.66,876.00 1748.80,876.00 1749.94,876.00 1751.08,876.00 1752.22,876.00 1753.37,876.00 1754.51,876.00 1755.65,876.00 1756.79,876.00 1757.93,876.00 1759.08,876.00 1760.22,876.00 1761.36,876.00 1762.50,876.00 1763.64,876.00 1764.78,876.00 1765.93,876.00 1767.07,876.00 1768.21,876.00 1769.35,876.00 1770.49,876.00 1771.63,876.00 1772.78,876.00 1773.92,876.00 1775.06,876.00 1776.20,876.00 1777.34,876.00 1778.49,876.00 1779.63,876.00 1780.77,876.00 1781.91,876.00 1783.05,876.00 1784.19,876.00 1785.34,876.00 1786.48,876.00 1787.62,876.00 1788.76,876.00 1789.90,876.00 1791.05,876.00 1792.19,876.00 1793.33,876.00 1794.47,876.00 1795.61,876.00 1796.75,876.00 1797.90,876.00 1799.04,876.00 1800.18,876.00 1801.32,876.00 1802.46,876.00 1803.60,876.00 1804.75,876.00 1805.89,876.00 1807.03,876.00 1808.17,876.00 1809.31,876.00 1810.46,876.00 1811.60,876.00 1812.74,876.00 1813.88,876.00 1815.02,876.00 1816.16,876.00 1817.31,876.00 1818.45,876.00 1819.59,876.00 1820.73,876.00 1821.87,876.00 1823.02,876.00 1824.16,876.00 1825.30,876.00 1826.44,876.00 1827.58,876.00 1828.72,876.00 1829.87,876.00 1831.01,876.00 1832.15,876.00 1833.29,876.00 1834.43,876.00 1835.58,876.00 1836.72,876.00 1837.86,876.00 1839.00,876.00 1840.14,876.00 1841.28,876.00 1842.43,876.00 1843.57,876.00 1844.71,876.00 1845.85,876.00 1846.99,876.00 1848.13,876.00 1849.28,876.00 1850.42,876.00 1851.56,876.00 1852.70,876.00 1853.84,876.00 1854.99,876.00 1856.13,876.00 1857.27,876.00 1858.41,876.00 1859.55,876.00 1860.69,876.00 1861.84,876.00 1862.98,876.00 1864.12,876.00 1865.26,876.00 1866.40,876.00 1867.55,876.00 1868.69,876.00 1869.83,876.00 1870.97,876.00 1872.11,876.00 1873.25,876.00 1874.40,876.00 1875.54,876.00 1876.68,876.00 1877.82,876.00 1878.96,876.00 1880.10,876.00 1881.25,876.00 1882.39,876.00 1883.53,876.00 1884.67,876.00 1885.81,876.00 1886.96,876.00 1888.10,876.00 1889.24,876.00 1890.38,876.00 1891.52,876.00 1892.66,876.00 1893.81,876.00 1894.95,876.00 1896.09,876.00 1897.23,876.00 1898.37,876.00 1899.51,876.00 1900.66,876.00 1901.80,876.00 1902.94,876.00 1904.08,876.00 1905.22,876.00 1906.37,876.00 1907.51,876.00 1908.65,876.00 1909.79,876.00 1910.93,876.00 1912.07,876.00 1913.22,876.00 1914.36,876.00 1915.50,876.00" fill="none" stroke="#f00" stroke-width="12.0" stroke-linejoin="round" stroke-linecap="butt"/>
<polyline clip-path="url(#cp1)" points="317.00,1688.50 318.14,1688.50 319.28,1688.50 320.43,1688.50 321.57,1688.50 322.71,1688.50 323.85,1688.50 324.99,1688.50 326.13,1688.50 327.28,1688.50 328.42,1688.50 329.56,1688.50 330.70,1688.50 331.84,1688.50 332.99,1688.50 334.13,1688.50 335.27,1688.50 336.41,1688.50 337.55,1688.50 338.69,1688.50 339.84,1688.50 340.98,1688.50 342.12,1688.50 343.26,1688.50 344.40,1688.50 345.54,1688.49 346.69,1688.49 347.83,1688.48 348.97,1688.47 350.11,1688.46 351.25,1688.43 352.40,1688.40 353.54,1688.35 354.68,1688.28 355.82,1688.19 356.96,1688.07 358.10,1687.91 359.25,1687.70 360.39,1687.43 361.53,1687.10 362.67,1686.68 363.81,1686.16 364.95,1685.53 366.10,1684.78 367.24,1683.88 368.38,1682.81 369.52,1681.57 370.66,1680.12 371.81,1678.45 372.95,1676.54 374.09,1674.37 375.23,1671.93 376.37,1669.19 377.51,1666.14 378.66,1662.77 379.80,1659.05 380.94,1654.98 382.08,1650.55 383.22,1645.74 384.37,1640.56 385.51,1634.99 386.65,1629.03 387.79,1622.69 388.93,1615.96 390.07,1608.84 391.22,1601.36 392.36,1593.50 393.50,1585.29 394.64,1576.74 395.78,1567.86 396.93,1558.66 398.07,1549.18 399.21,1539.41 400.35,1529.40 401.49,1519.15 402.63,1508.70 403.78,1498.06 404.92,1487.27 406.06,1476.35 407.20,1465.32 408.34,1454.21 409.48,1443.05 410.63,1431.86 411.77,1420.68 412.91,1409.52 414.05,1398.42 415.19,1387.39 416.34,1376.47 417.48,1365.68 418.62,1355.04 419.76,1344.57 420.90,1334.30 422.04,1324.24 423.19,1314.41 424.33,1304.84 425.47,1295.54 426.61,1286.52 427.75,1277.80 428.89,1269.40 430.04,1261.32 431.18,1253.58 432.32,1246.18 433.46,1239.13 434.60,1232.45 435.75,1226.14 436.89,1220.20 438.03,1214.63 439.17,1209.45 440.31,1204.64 441.45,1200.22 442.60,1196.18 443.74,1192.52 444.88,1189.24 446.02,1186.34 447.16,1183.80 448.31,1181.64 449.45,1179.84 450.59,1178.40 451.73,1177.31 452.87,1176.57 454.01,1176.16 455.16,1176.09 456.30,1176.34 457.44,1176.90 458.58,1177.77 459.72,1178.93 460.87,1180.39 462.01,1182.12 463.15,1184.12 464.29,1186.37 465.43,1188.88 466.57,1191.63 467.72,1194.60 468.86,1197.80 470.00,1201.20 471.14,1204.81 472.28,1208.60 473.42,1212.57 474.57,1216.72 475.71,1221.02 476.85,1225.48 477.99,1230.07 479.13,1234.80 480.28,1239.66 481.42,1244.62 482.56,1249.70 483.70,1254.87 484.84,1260.13 485.98,1265.47 487.13,1270.89 488.27,1276.37 489.41,1281.91 490.55,1287.51 491.69,1293.14 492.84,1298.82 493.98,1304.53 495.12,1310.26 496.26,1316.01 497.40,1321.78 498.54,1327.56 499.69,1333.33 500.83,1339.11 501.97,1344.88 503.11,1350.64 504.25,1356.38 505.39,1362.10 506.54,1367.80 507.68,1373.48 508.82,1379.12 509.96,1384.72 511.10,1390.29 512.25,1395.82 513.39,1401.31 514.53,1406.75 515.67,1412.14 516.81,1417.48 517.95,1422.76 519.10,1428.00 520.24,1433.17 521.38,1438.29 522.52,1443.35 523.66,1448.35 524.80,1453.28 525.95,1458.15 527.09,1462.96 528.23,1467.70 529.37,1472.38 530.51,1476.98 531.66,1481.52 532.80,1486.00 533.94,1490.40 535.08,1494.74 536.22,1499.00 537.36,1503.20 538.51,1507.33 539.65,1511.39 540.79,1515.38 541.93,1519.30 543.07,1523.15 544.22,1526.94 545.36,1530.66 546.50,1534.30 547.64,1537.88 548.78,1541.40 549.92,1544.85 551.07,1548.23 552.21,1551.54 553.35,1554.79 554.49,1557.98 555.63,1561.10 556.77,1564.17 557.92,1567.16 559.06,1570.10 560.20,1572.98 561.34,1575.79 562.48,1578.55 563.63,1581.25 564.77,1583.89 565.91,1586.47 567.05,1589.00 568.19,1591.48 569.33,1593.90 570.48,1596.26 571.62,1598.57 572.76,1600.84 573.90,1603.05 575.04,1605.21 576.19,1607.32 577.33,1609.38 578.47,1611.40 579.61,1613.37 580.75,1615.29 581.89,1617.17 583.04,1619.00 584.18,1620.79 585.32,1622.54 586.46,1624.25 587.60,1625.92 588.75,1627.54 589.89,1629.13 591.03,1630.68 592.17,1632.19 593.31,1633.66 594.45,1635.10 595.60,1636.51 596.74,1637.87 597.88,1639.21 599.02,1640.51 600.16,1641.78 601.30,1643.02 602.45,1644.23 603.59,1645.40 604.73,1646.55 605.87,1647.67 607.01,1648.76 608.16,1649.82 609.30,1650.85 610.44,1651.86 611.58,1652.84 612.72,1653.80 613.86,1654.73 615.01,1655.64 616.15,1656.53 617.29,1657.39 618.43,1658.23 619.57,1659.05 620.72,1659.85 621.86,1660.62 623.00,1661.38 624.14,1662.12 625.28,1662.83 626.42,1663.53 627.57,1664.21 628.71,1664.87 629.85,1665.51 630.99,1666.14 632.13,1666.75 633.27,1667.35 634.42,1667.92 635.56,1668.49 636.70,1669.04 637.84,1669.57 638.98,1670.09 640.13,1670.59 641.27,1671.08 642.41,1671.56 643.55,1672.03 644.69,1672.48 645.83,1672.92 646.98,1673.35 648.12,1673.77 649.26,1674.17 650.40,1674.57 651.54,1674.95 652.68,1675.33 653.83,1675.69 654.97,1676.04 656.11,1676.39 657.25,1676.72 658.39,1677.05 659.54,1677.36 660.68,1677.67 661.82,1677.97 662.96,1678.26 664.10,1678.55 665.24,1678.82 666.39,1679.09 667.53,1679.35 668.67,1679.60 669.81,1679.85 670.95,1680.09 672.10,1680.32 673.24,1680.55 674.38,1680.77 675.52,1680.99 676.66,1681.19 677.80,1681.40 678.95,1681.59 680.09,1681.79 681.23,1681.97 682.37,1682.15 683.51,1682.33 684.65,1682.50 685.80,1682.67 686.94,1682.83 688.08,1682.99 689.22,1683.14 690.36,1683.29 691.51,1683.43 692.65,1683.57 693.79,1683.71 694.93,1683.84 696.07,1683.97 697.21,1684.10 698.36,1684.22 699.50,1684.34 700.64,1684.46 701.78,1684.57 702.92,1684.68 704.07,1684.78 705.21,1684.89 706.35,1684.99 707.49,1685.08 708.63,1685.18 709.77,1685.27 710.92,1685.36 712.06,1685.45 713.20,1685.53 714.34,1685.61 715.48,1685.69 716.62,1685.77 717.77,1685.85 718.91,1685.92 720.05,1685.99 721.19,1686.06 722.33,1686.13 723.48,1686.20 724.62,1686.26 725.76,1686.32 726.90,1686.38 728.04,1686.44 729.18,1686.50 730.33,1686.55 731.47,1686.61 732.61,1686.66 733.75,1686.71 734.89,1686.76 736.04,1686.81 737.18,1686.85 738.32,1686.90 739.46,1686.94 740.60,1686.99 741.74,1687.03 742.89,1687.07 744.03,1687.11 745.17,1687.15 746.31,1687.18 747.45,1687.22 748.60,1687.26 749.74,1687.29 750.88,1687.32 752.02,1687.36 753.16,1687.39 754.30,1687.42 755.45,1687.45 756.59,1687.48 757.73,1687.50 758.87,1687.53 760.01,1687.56 761.15,1687.58 762.30,1687.61 763.44,1687.63 764.58,1687.66 765.72,1687.68 766.86,1687.70 768.01,1687.72 769.15,1687.75 770.29,1687.77 771.43,1687.79 772.57,1687.81 773.71,1687.82 774.86,1687.84 776.00,1687.86 777.14,1687.88 778.28,1687.90 779.42,1687.91 780.57,1687.93 781.71,1687.94 782.85,1687.96 783.99,1687.97 785.13,1687.99 786.27,1688.00 787.42,1688.02 788.56,1688.03 789.70,1688.04 790.84,1688.05 791.98,1688.07 793.12,1688.08 794.27,1688.09 795.41,1688.10 796.55,1688.11 797.69,1688.12 798.83,1688.13 799.98,1688.14 801.12,1688.15 802.26,1688.16 803.40,1688.17 804.54,1688.18 805.68,1688.19 806.83,1688.20 807.97,1688.20 809.11,1688.21 810.25,1688.22 811.39,1688.23 812.53,1688.23 813.68,1688.24 814.82,1688.25 815.96,1688.26 817.10,1688.26 818.24,1688.27 819.39,1688.27 820.53,1688.28 821.67,1688.29 822.81,1688.29 823.95,1688.30 825.09,1688.30 826.24,1688.31 827.38,1688.31 828.52,1688.32 829.66,1688.32 830.80,1688.33 831.95,1688.33 833.09,1688.34 834.23,1688.34 835.37,1688.35 836.51,1688.35 837.65,1688.35 838.80,1688.36 839.94,1688.36 841.08,1688.37 842.22,1688.37 843.36,1688.37 844.50,1688.38 845.65,1688.38 846.79,1688.38 847.93,1688.39 849.07,1688.39 850.21,1688.39 851.36,1688.39 852.50,1688.40 853.64,1688.40 854.78,1688.40 855.92,1688.40 857.06,1688.41 858.21,1688.41 859.35,1688.41 860.49,1688.41 861.63,1688.42 862.77,1688.42 863.92,1688.42 865.06,1688.42 866.20,1688.43 867.34,1688.43 868.48,1688.43 869.62,1688.43 870.77,1688.43 871.91,1688.43 873.05,1688.44 874.19,1688.44 875.33,1688.44 876.48,1688.44 877.62,1688.44 878.76,1688.44 879.90,1688.45 881.04,1688.45 882.18,1688.45 883.33,1688.45 884.47,1688.45 885.61,1688.45 886.75,1688.45 887.89,1688.45 889.03,1688.46 890.18,1688.46 891.32,1688.46 892.46,1688.46 893.60,1688.46 894.74,1688.46 895.89,1688.46 897.03,1688.46 898.17,1688.46 899.31,1688.47 900.45,1688.47 901.59,1688.47 902.74,1688.47 903.88,1688.47 905.02,1688.47 906.16,1688.47 907.30,1688.47 908.44,1688.47 909.59,1688.47 910.73,1688.47 911.87,1688.47 913.01,1688.47 914.15,1688.48 915.30,1688.48 916.44,1688.48 917.58,1688.48 918.72,1688.48 919.86,1688.48 921.00,1688.48 922.15,1688.48 923.29,1688.48 924.43,1688.48 925.57,1688.48 926.71,1688.48 927.86,1688.48 929.00,1688.48 930.14,1688.48 931.28,1688.48 932.42,1688.48 933.56,1688.48 934.71,1688.48 935.85,1688.48 936.99,1688.49 938.13,1688.49 939.27,1688.49 940.41,1688.49 941.56,1688.49 942.70,1688.49 943.84,1688.49 944.98,1688.49 946.12,1688.49 947.27,1688.49 948.41,1688.49 949.55,1688.49 950.69,1688.49 951.83,1688.49 952.97,1688.49 954.12,1688.49 955.26,1688.49 956.40,1688.49 957.54,1688.49 958.68,1688.49 959.83,1688.49 960.97,1688.49 962.11,1688.49 963.25,1688.49 964.39,1688.49 965.53,1688.49 966.68,1688.49 967.82,1688.49 968.96,1688.49 970.10,1688.49 971.24,1688.49 972.38,1688.49 973.53,1688.49 974.67,1688.49 975.81,1688.49 976.95,1688.49 978.09,1688.49 979.24,1688.49 980.38,1688.49 981.52,1688.49 982.66,1688.49 983.80,1688.49 984.94,1688.49 986.09,1688.49 987.23,1688.50 988.37,1688.50 989.51,1688.50 990.65,1688.50 991.80,1688.50 992.94,1688.50 994.08,1688.50 995.22,1688.50 996.36,1688.50 997.50,1688.50 998.65,1688.50 999.79,1688.50 1000.93,1688.50 1002.07,1688.50 1003.21,1688.50 1004.36,1688.50 1005.50,1688.50 1006.64,1688.50 1007.78,1688.50 1008.92,1688.50 1010.06,1688.50 1011.21,1688.50 1012.35,1688.50 1013.49,1688.50 1014.63,1688.50 1015.77,1688.50 1016.91,1688.50 1018.06,1688.50 1019.20,1688.50 1020.34,1688.50 1021.48,1688.50 1022.62,1688.50 1023.77,1688.50 1024.91,1688.50 1026.05,1688.50 1027.19,1688.50 1028.33,1688.50 1029.47,1688.50 1030.62,1688.50 1031.76,1688.50 1032.90,1688.50 1034.04,1688.50 1035.18,1688.50 1036.33,1688.50 1037.47,1688.50 1038.61,1688.50 1039.75,1688.50 1040.89,1688.50 1042.03,1688.50 1043.18,1688.50 1044.32,1688.50 1045.46,1688.50 1046.60,1688.50 1047.74,1688.50 1048.88,1688.50 1050.03,1688.50 1051.17,1688.50 1052.31,1688.50 1053.45,1688.50 1054.59,1688.50 1055.74,1688.50 1056.88,1688.50 1058.02,1688.50 1059.16,1688.50 1060.30,1688.50 1061.44,1688.50 1062.59,1688.50 1063.73,1688.50 1064.87,1688.50 1066.01,1688.50 1067.15,1688.50 1068.30,1688.50 1069.44,1688.50 1070.58,1688.50 1071.72,1688.50 1072.86,1688.50 1074.00,1688.50 1075.15,1688.50 1076.29,1688.50 1077.43,1688.50 1078.57,1688.50 1079.71,1688.50 1080.85,1688.50 1082.00,1688.50 1083.14,1688.50 1084.28,1688.50 1085.42,1688.50 1086.56,1688.50 1087.71,1688.50 1088.85,1688.50 1089.99,1688.50 1091.13,1688.50 1092.27,1688.50 1093.41,1688.50 1094.56,1688.50 1095.70,1688.50 1096.84,1688.50 1097.98,1688.50 1099.12,1688.50 1100.26,1688.50 1101.41,1688.50 1102.55,1688.50 1103.69,1688.50 1104.83,1688.50 1105.97,1688.50 1107.12,1688.50 1108.26,1688.50 1109.40,1688.50 1110.54,1688.50 1111.68,1688.50 1112.82,1688.50 1113.97,1688.50 1115.11,1688.50 1116.25,1688.50 1117.39,1688.50 1118.53,1688.50 1119.68,1688.50 1120.82,1688.50 1121.96,1688.50 1123.10,1688.50 1124.24,1688.50 1125.38,1688.50 1126.53,1688.50 1127.67,1688.50 1128.81,1688.50 1129.95,1688.50 1131.09,1688.50 1132.24,1688.50 1133.38,1688.50 1134.52,1688.50 1135.66,1688.50 1136.80,1688.50 1137.94,1688.50 1139.09,1688.50 1140.23,1688.50 1141.37,1688.50 1142.51,1688.50 1143.65,1688.50 1144.79,1688.50 1145.94,1688.50 1147.08,1688.50 1148.22,1688.50 1149.36,1688.50 1150.50,1688.50 1151.65,1688.50 1152.79,1688.50 1153.93,1688.50 1155.07,1688.50 1156.21,1688.50 1157.35,1688.50 1158.50,1688.50 1159.64,1688.50 1160.78,1688.50 1161.92,1688.50 1163.06,1688.50 1164.20,1688.50 1165.35,1688.50 1166.49,1688.50 1167.63,1688.50 1168.77,1688.50 1169.91,1688.50 1171.06,1688.50 1172.20,1688.50 1173.34,1688.50 1174.48,1688.50 1175.62,1688.50 1176.76,1688.50 1177.91,1688.50 1179.05,1688.50 1180.19,1688.50 1181.33,1688.50 1182.47,1688.50 1183.62,1688.50 1184.76,1688.50 1185.90,1688.50 1187.04,1688.50 1188.18,1688.50 1189.32,1688.50 1190.47,1688.50 1191.61,1688.50 1192.75,1688.50 1193.89,1688.50 1195.03,1688.50 1196.17,1688.50 1197.32,1688.50 1198.46,1688.50 1199.60,1688.50 1200.74,1688.50 1201.88,1688.50 1203.03,1688.50 1204.17,1688.50 1205.31,1688.50 1206.45,1688.50 1207.59,1688.50 1208.73,1688.50 1209.88,1688.50 1211.02,1688.50 1212.16,1688.50 1213.30,1688.50 1214.44,1688.50 1215.59,1688.50 1216.73,1688.50 1217.87,1688.50 1219.01,1688.50 1220.15,1688.50 1221.29,1688.50 1222.44,1688.50 1223.58,1688.50 1224.72,1688.50 1225.86,1688.50 1227.00,1688.50 1228.14,1688.50 1229.29,1688.50 1230.43,1688.50 1231.57,1688.50 1232.71,1688.50 1233.85,1688.50 1235.00,1688.50 1236.14,1688.50 1237.28,1688.50 1238.42,1688.50 1239.56,1688.50 1240.70,1688.50 1241.85,1688.50 1242.99,1688.50 1244.13,1688.50 1245.27,1688.50 1246.41,1688.50 1247.56,1688.50 1248.70,1688.50 1249.84,1688.50 1250.98,1688.50 1252.12,1688.50 1253.26,1688.50 1254.41,1688.50 1255.55,1688.50 1256.69,1688.50 1257.83,1688.50 1258.97,1688.50 1260.11,1688.50 1261.26,1688.50 1262.40,1688.50 1263.54,1688.50 1264.68,1688.50 1265.82,1688.50 1266.97,1688.50 1268.11,1688.50 1269.25,1688.50 1270.39,1688.50 1271.53,1688.50 1272.67,1688.50 1273.82,1688.50 1274.96,1688.50 1276.10,1688.50 1277.24,1688.50 1278.38,1688.50 1279.53,1688.50 1280.67,1688.50 1281.81,1688.50 1282.95,1688.50 1284.09,1688.50 1285.23,1688.50 1286.38,1688.50 1287.52,1688.50 1288.66,1688.50 1289.80,1688.50 1290.94,1688.50 1292.09,1688.50 1293.23,1688.50 1294.37,1688.50 1295.51,1688.50 1296.65,1688.50 1297.79,1688.50 1298.94,1688.50 1300.08,1688.50 1301.22,1688.50 1302.36,1688.50 1303.50,1688.50 1304.64,1688.50 1305.79,1688.50 1306.93,1688.50 1308.07,1688.50 1309.21,1688.50 1310.35,1688.50 1311.50,1688.50 1312.64,1688.50 1313.78,1688.50 1314.92,1688.50 1316.06,1688.50 1317.20,1688.50 1318.35,1688.50 1319.49,1688.50 1320.63,1688.50 1321.77,1688.50 1322.91,1688.50 1324.06,1688.50 1325.20,1688.50 1326.34,1688.50 1327.48,1688.50 1328.62,1688.50 1329.76,1688.50 1330.91,1688.50 1332.05,1688.50 1333.19,1688.50 1334.33,1688.50 1335.47,1688.50 1336.61,1688.50 1337.76,1688.50 1338.90,1688.50 1340.04,1688.50 1341.18,1688.50 1342.32,1688.50 1343.47,1688.50 1344.61,1688.50 1345.75,1688.50 1346.89,1688.50 1348.03,1688.50 1349.17,1688.50 1350.32,1688.50 1351.46,1688.50 1352.60,1688.50 1353.74,1688.50 1354.88,1688.50 1356.03,1688.50 1357.17,1688.50 1358.31,1688.50 1359.45,1688.50 1360.59,1688.50 1361.73,1688.50 1362.88,1688.50 1364.02,1688.50 1365.16,1688.50 1366.30,1688.50 1367.44,1688.50 1368.58,1688.50 1369.73,1688.50 1370.87,1688.50 1372.01,1688.50 1373.15,1688.50 1374.29,1688.50 1375.44,1688.50 1376.58,1688.50 1377.72,1688.50 1378.86,1688.50 1380.00,1688.50 1381.14,1688.50 1382.29,1688.50 1383.43,1688.50 1384.57,1688.50 1385.71,1688.50 1386.85,1688.50 1387.99,1688.50 1389.14,1688.50 1390.28,1688.50 1391.42,1688.50 1392.56,1688.50 1393.70,1688.50 1394.85,1688.50 1395.99,1688.50 1397.13,1688.50 1398.27,1688.50 1399.41,1688.50 1400.55,1688.50 1401.70,1688.50 1402.84,1688.50 1403.98,1688.50 1405.12,1688.50 1406.26,1688.50 1407.41,1688.50 1408.55,1688.50 1409.69,1688.50 1410.83,1688.50 1411.97,1688.50 1413.11,1688.50 1414.26,1688.50 1415.40,1688.50 1416.54,1688.50 1417.68,1688.50 1418.82,1688.50 1419.96,1688.50 1421.11,1688.50 1422.25,1688.50 1423.39,1688.50 1424.53,1688.50 1425.67,1688.50 1426.82,1688.50 1427.96,1688.50 1429.10,1688.50 1430.24,1688.50 1431.38,1688.50 1432.52,1688.50 1433.67,1688.50 1434.81,1688.50 1435.95,1688.50 1437.09,1688.50 1438.23,1688.50 1439.38,1688.50 1440.52,1688.50 1441.66,1688.50 1442.80,1688.50 1443.94,1688.50 1445.08,1688.50 1446.23,1688.50 1447.37,1688.50 1448.51,1688.50 1449.65,1688.50 1450.79,1688.50 1451.93,1688.50 1453.08,1688.50 1454.22,1688.50 1455.36,1688.50 1456.50,1688.50 1457.64,1688.50 1458.79,1688.50 1459.93,1688.50 1461.07,1688.50 1462.21,1688.50 1463.35,1688.50 1464.49,1688.50 1465.64,1688.50 1466.78,1688.50 1467.92,1688.50 1469.06,1688.50 1470.20,1688.50 1471.35,1688.50 1472.49,1688.50 1473.63,1688.50 1474.77,1688.50 1475.91,1688.50 1477.05,1688.50 1478.20,1688.50 1479.34,1688.50 1480.48,1688.50 1481.62,1688.50 1482.76,1688.50 1483.90,1688.50 1485.05,1688.50 1486.19,1688.50 1487.33,1688.50 1488.47,1688.50 1489.61,1688.50 1490.76,1688.50 1491.90,1688.50 1493.04,1688.50 1494.18,1688.50 1495.32,1688.50 1496.46,1688.50 1497.61,1688.50 1498.75,1688.50 1499.89,1688.50 1501.03,1688.50 1502.17,1688.50 1503.32,1688.50 1504.46,1688.50 1505.60,1688.50 1506.74,1688.50 1507.88,1688.50 1509.02,1688.50 1510.17,1688.50 1511.31,1688.50 1512.45,1688.50 1513.59,1688.50 1514.73,1688.50 1515.88,1688.50 1517.02,1688.50 1518.16,1688.50 1519.30,1688.50 1520.44,1688.50 1521.58,1688.50 1522.73,1688.50 1523.87,1688.50 1525.01,1688.50 1526.15,1688.50 1527.29,1688.50 1528.43,1688.50 1529.58,1688.50 1530.72,1688.50 1531.86,1688.50 1533.00,1688.50 1534.14,1688.50 1535.29,1688.50 1536.43,1688.50 1537.57,1688.50 1538.71,1688.50 1539.85,1688.50 1540.99,1688.50 1542.14,1688.50 1543.28,1688.50 1544.42,1688.50 1545.56,1688.50 1546.70,1688.50 1547.85,1688.50 1548.99,1688.50 1550.13,1688.50 1551.27,1688.50 1552.41,1688.50 1553.55,1688.50 1554.70,1688.50 1555.84,1688.50 1556.98,1688.50 1558.12,1688.50 1559.26,1688.50 1560.40,1688.50 1561.55,1688.50 1562.69,1688.50 1563.83,1688.50 1564.97,1688.50 1566.11,1688.50 1567.26,1688.50 1568.40,1688.50 1569.54,1688.50 1570.68,1688.50 1571.82,1688.50 1572.96,1688.50 1574.11,1688.50 1575.25,1688.50 1576.39,1688.50 1577.53,1688.50 1578.67,1688.50 1579.81,1688.50 1580.96,1688.50 1582.10,1688.50 1583.24,1688.50 1584.38,1688.50 1585.52,1688.50 1586.67,1688.50 1587.81,1688.50 1588.95,1688.50 1590.09,1688.50 1591.23,1688.50 1592.37,1688.50 1593.52,1688.50 1594.66,1688.50 1595.80,1688.50 1596.94,1688.50 1598.08,1688.50 1599.23,1688.50 1600.37,1688.50 1601.51,1688.50 1602.65,1688.50 1603.79,1688.50 1604.93,1688.50 1606.08,1688.50 1607.22,1688.50 1608.36,1688.50 1609.50,1688.50 1610.64,1688.50 1611.79,1688.50 1612.93,1688.50 1614.07,1688.50 1615.21,1688.50 1616.35,1688.50 1617.49,1688.50 1618.64,1688.50 1619.78,1688.50 1620.92,1688.50 1622.06,1688.50 1623.20,1688.50 1624.34,1688.50 1625.49,1688.50 1626.63,1688.50 1627.77,1688.50 1628.91,1688.50 1630.05,1688.50 1631.20,1688.50 1632.34,1688.50 1633.48,1688.50 1634.62,1688.50 1635.76,1688.50 1636.90,1688.50 1638.05,1688.50 1639.19,1688.50 1640.33,1688.50 1641.47,1688.50 1642.61,1688.50 1643.76,1688.50 1644.90,1688.50 1646.04,1688.50 1647.18,1688.50 1648.32,1688.50 1649.46,1688.50 1650.61,1688.50 1651.75,1688.50 1652.89,1688.50 1654.03,1688.50 1655.17,1688.50 1656.31,1688.50 1657.46,1688.50 1658.60,1688.50 1659.74,1688.50 1660.88,1688.50 1662.02,1688.50 1663.17,1688.50 1664.31,1688.50 1665.45,1688.50 1666.59,1688.50 1667.73,1688.50 1668.87,1688.50 1670.02,1688.50 1671.16,1688.50 1672.30,1688.50 1673.44,1688.50 1674.58,1688.50 1675.72,1688.50 1676.87,1688.50 1678.01,1688.50 1679.15,1688.50 1680.29,1688.50 1681.43,1688.50 1682.58,1688.50 1683.72,1688.50 1684.86,1688.50 1686.00,1688.50 1687.14,1688.50 1688.28,1688.50 1689.43,1688.50 1690.57,1688.50 1691.71,1688.50 1692.85,1688.50 1693.99,1688.50 1695.14,1688.50 1696.28,1688.50 1697.42,1688.50 1698.56,1688.50 1699.70,1688.50 1700.84,1688.50 1701.99,1688.50 1703.13,1688.50 1704.27,1688.50 1705.41,1688.50 1706.55,1688.50 1707.69,1688.50 1708.84,1688.50 1709.98,1688.50 1711.12,1688.50 1712.26,1688.50 1713.40,1688.50 1714.55,1688.50 1715.69,1688.50 1716.83,1688.50 1717.97,1688.50 1719.11,1688.50 1720.25,1688.50 1721.40,1688.50 1722.54,1688.50 1723.68,1688.50 1724.82,1688.50 1725.96,1688.50 1727.11,1688.50 1728.25,1688.50 1729.39,1688.50 1730.53,1688.50 1731.67,1688.50 1732.81,1688.50 1733.96,1688.50 1735.10,1688.50 1736.24,1688.50 1737.38,1688.50 1738.52,1688.50 1739.66,1688.50 1740.81,1688.50 1741.95,1688.50 1743.09,1688.50 1744.23,1688.50 1745.37,1688.50 1746.52,1688.50 1747.66,1688.50 1748.80,1688.50 1749.94,1688.50 1751.08,1688.50 1752.22,1688.50 1753.37,1688.50 1754.51,1688.50 1755.65,1688.50 1756.79,1688.50 1757.93,1688.50 1759.08,1688.50 1760.22,1688.50 1761.36,1688.50 1762.50,1688.50 1763.64,1688.50 1764.78,1688.50 1765.93,1688.50 1767.07,1688.50 1768.21,1688.50 1769.35,1688.50 1770.49,1688.50 1771.63,1688.50 1772.78,1688.50 1773.92,1688.50 1775.06,1688.50 1776.20,1688.50 1777.34,1688.50 1778.49,1688.50 1779.63,1688.50 1780.77,1688.50 1781.91,1688.50 1783.05,1688.50 1784.19,1688.50 1785.34,1688.50 1786.48,1688.50 1787.62,1688.50 1788.76,1688.50 1789.90,1688.50 1791.05,1688.50 1792.19,1688.50 1793.33,1688.50 1794.47,1688.50 1795.61,1688.50 1796.75,1688.50 1797.90,1688.50 1799.04,1688.50 1800.18,1688.50 1801.32,1688.50 1802.46,1688.50 1803.60,1688.50 1804.75,1688.50 1805.89,1688.50 1807.03,1688.50 1808.17,1688.50 1809.31,1688.50 1810.46,1688.50 1811.60,1688.50 1812.74,1688.50 1813.88,1688.50 1815.02,1688.50 1816.16,1688.50 1817.31,1688.50 1818.45,1688.50 1819.59,1688.50 1820.73,1688.50 1821.87,1688.50 1823.02,1688.50 1824.16,1688.50 1825.30,1688.50 1826.44,1688.50 1827.58,1688.50 1828.72,1688.50 1829.87,1688.50 1831.01,1688.50 1832.15,1688.50 1833.29,1688.50 1834.43,1688.50 1835.58,1688.50 1836.72,1688.50 1837.86,1688.50 1839.00,1688.50 1840.14,1688.50 1841.28,1688.50 1842.43,1688.50 1843.57,1688.50 1844.71,1688.50 1845.85,1688.50 1846.99,1688.50 1848.13,1688.50 1849.28,1688.50 1850.42,1688.50 1851.56,1688.50 1852.70,1688.50 1853.84,1688.50 1854.99,1688.50 1856.13,1688.50 1857.27,1688.50 1858.41,1688.50 1859.55,1688.50 1860.69,1688.50 1861.84,1688.50 1862.98,1688.50 1864.12,1688.50 1865.26,1688.50 1866.40,1688.50 1867.55,1688.50 1868.69,1688.50 1869.83,1688.50 1870.97,1688.50 1872.11,1688.50 1873.25,1688.50 1874.40,1688.50 1875.54,1688.50 1876.68,1688.50 1877.82,1688.50 1878.96,1688.50 1880.10,1688.50 1881.25,1688.50 1882.39,1688.50 1883.53,1688.50 1884.67,1688.50 1885.81,1688.50 1886.96,1688.50 1888.10,1688.50 1889.24,1688.50 1890.38,1688.50 1891.52,1688.50 1892.66,1688.50 1893.81,1688.50 1894.95,1688.50 1896.09,1688.50 1897.23,1688.50 1898.37,1688.50 1899.51,1688.50 1900.66,1688.50 1901.80,1688.50 1902.94,1688.50 1904.08,1688.50 1905.22,1688.50 1906.37,1688.50 1907.51,1688.50 1908.65,1688.50 1909.79,1688.50 1910.93,1688.50 1912.07,1688.50 1913.22,1688.50 1914.36,1688.50 1915.50,1688.50" fill="none" stroke="#f00" stroke-width="12.0" stroke-linejoin="round" stroke-linecap="butt"/>
<polyline clip-path="url(#cp2)" points="332.99,2501.50 334.12,2501.50 335.25,2501.50 336.38,2501.50 337.51,2501.50 338.64,2501.50 339.77,2501.50 340.90,2501.50 342.03,2501.50 343.16,2501.50 344.29,2501.50 345.42,2501.50 346.55,2501.50 347.68,2501.50 348.81,2501.50 349.94,2501.49 351.07,2501.49 352.20,2501.49 353.33,2501.48 354.46,2501.48 355.59,2501.47 356.72,2501.46 357.85,2501.45 358.98,2501.43 360.11,2501.41 361.24,2501.39 362.37,2501.36 363.50,2501.33 364.64,2501.29 365.77,2501.24 366.90,2501.19 368.03,2501.13 369.16,2501.06 370.29,2500.98 371.42,2500.88 372.55,2500.78 373.68,2500.66 374.81,2500.52 375.94,2500.37 377.07,2500.20 378.20,2500.01 379.33,2499.79 380.46,2499.56 381.59,2499.30 382.72,2499.02 383.85,2498.71 384.98,2498.38 386.11,2498.01 387.24,2497.61 388.37,2497.18 389.50,2496.71 390.63,2496.21 391.76,2495.67 392.89,2495.09 394.02,2494.47 395.16,2493.81 396.29,2493.11 397.42,2492.36 398.55,2491.56 399.68,2490.72 400.81,2489.83 401.94,2488.89 403.07,2487.89 404.20,2486.85 405.33,2485.75 406.46,2484.60 407.59,2483.39 408.72,2482.13 409.85,2480.81 410.98,2479.44 412.11,2478.00 413.24,2476.51 414.37,2474.96 415.50,2473.34 416.63,2471.67 417.76,2469.94 418.89,2468.15 420.02,2466.29 421.15,2464.38 422.28,2462.41 423.41,2460.37 424.54,2458.28 425.68,2456.12 426.81,2453.90 427.94,2451.63 429.07,2449.29 430.20,2446.90 431.33,2444.44 432.46,2441.93 433.59,2439.36 434.72,2436.74 435.85,2434.06 436.98,2431.32 438.11,2428.53 439.24,2425.69 440.37,2422.79 441.50,2419.84 442.63,2416.85 443.76,2413.80 444.89,2410.70 446.02,2407.56 447.15,2404.37 448.28,2401.14 449.41,2397.86 450.54,2394.54 451.67,2391.18 452.80,2387.78 453.93,2384.34 455.06,2380.86 456.20,2377.35 457.33,2373.81 458.46,2370.23 459.59,2366.62 460.72,2362.98 461.85,2359.31 462.98,2355.61 464.11,2351.89 465.24,2348.15 466.37,2344.38 467.50,2340.59 468.63,2336.78 469.76,2332.96 470.89,2329.11 472.02,2325.25 473.15,2321.38 474.28,2317.50 475.41,2313.60 476.54,2309.70 477.67,2305.78 478.80,2301.86 479.93,2297.94 481.06,2294.01 482.19,2290.08 483.32,2286.15 484.45,2282.22 485.58,2278.29 486.72,2274.36 487.85,2270.44 488.98,2266.52 490.11,2262.61 491.24,2258.71 492.37,2254.82 493.50,2250.94 494.63,2247.07 495.76,2243.21 496.89,2239.37 498.02,2235.55 499.15,2231.74 500.28,2227.94 501.41,2224.17 502.54,2220.41 503.67,2216.68 504.80,2212.97 505.93,2209.28 507.06,2205.61 508.19,2201.97 509.32,2198.35 510.45,2194.76 511.58,2191.20 512.71,2187.67 513.84,2184.16 514.97,2180.68 516.10,2177.24 517.23,2173.82 518.37,2170.44 519.50,2167.08 520.63,2163.76 521.76,2160.48 522.89,2157.23 524.02,2154.01 525.15,2150.83 526.28,2147.69 527.41,2144.58 528.54,2141.51 529.67,2138.47 530.80,2135.48 531.93,2132.52 533.06,2129.60 534.19,2126.72 535.32,2123.88 536.45,2121.08 537.58,2118.32 538.71,2115.59 539.84,2112.91 540.97,2110.28 542.10,2107.68 543.23,2105.12 544.36,2102.61 545.49,2100.14 546.62,2097.71 547.75,2095.32 548.89,2092.97 550.02,2090.67 551.15,2088.41 552.28,2086.19 553.41,2084.01 554.54,2081.88 555.67,2079.79 556.80,2077.74 557.93,2075.74 559.06,2073.78 560.19,2071.86 561.32,2069.99 562.45,2068.15 563.58,2066.36 564.71,2064.62 565.84,2062.91 566.97,2061.25 568.10,2059.63 569.23,2058.06 570.36,2056.52 571.49,2055.03 572.62,2053.58 573.75,2052.17 574.88,2050.80 576.01,2049.48 577.14,2048.19 578.27,2046.95 579.41,2045.75 580.54,2044.59 581.67,2043.46 582.80,2042.38 583.93,2041.34 585.06,2040.34 586.19,2039.38 587.32,2038.46 588.45,2037.57 589.58,2036.73 590.71,2035.92 591.84,2035.15 592.97,2034.42 594.10,2033.73 595.23,2033.08 596.36,2032.46 597.49,2031.88 598.62,2031.33 599.75,2030.82 600.88,2030.35 602.01,2029.91 603.14,2029.51 604.27,2029.15 605.40,2028.81 606.53,2028.51 607.66,2028.25 608.79,2028.02 609.93,2027.82 611.06,2027.66 612.19,2027.52 613.32,2027.42 614.45,2027.36 615.58,2027.32 616.71,2027.31 617.84,2027.34 618.97,2027.39 620.10,2027.48 621.23,2027.60 622.36,2027.74 623.49,2027.91 624.62,2028.12 625.75,2028.35 626.88,2028.61 628.01,2028.89 629.14,2029.21 630.27,2029.55 631.40,2029.91 632.53,2030.31 633.66,2030.73 634.79,2031.17 635.92,2031.64 637.05,2032.14 638.18,2032.66 639.31,2033.20 640.45,2033.77 641.58,2034.36 642.71,2034.97 643.84,2035.60 644.97,2036.26 646.10,2036.94 647.23,2037.64 648.36,2038.37 649.49,2039.11 650.62,2039.88 651.75,2040.66 652.88,2041.47 654.01,2042.29 655.14,2043.14 656.27,2044.00 657.40,2044.88 658.53,2045.78 659.66,2046.70 660.79,2047.63 661.92,2048.59 663.05,2049.56 664.18,2050.54 665.31,2051.55 666.44,2052.57 667.57,2053.60 668.70,2054.65 669.83,2055.72 670.96,2056.80 672.10,2057.89 673.23,2059.00 674.36,2060.13 675.49,2061.26 676.62,2062.41 677.75,2063.58 678.88,2064.75 680.01,2065.94 681.14,2067.14 682.27,2068.36 683.40,2069.58 684.53,2070.82 685.66,2072.07 686.79,2073.33 687.92,2074.60 689.05,2075.88 690.18,2077.17 691.31,2078.47 692.44,2079.78 693.57,2081.10 694.70,2082.43 695.83,2083.76 696.96,2085.11 698.09,2086.46 699.22,2087.83 700.35,2089.20 701.48,2090.58 702.62,2091.96 703.75,2093.35 704.88,2094.76 706.01,2096.16 707.14,2097.58 708.27,2099.00 709.40,2100.42 710.53,2101.86 711.66,2103.29 712.79,2104.74 713.92,2106.19 715.05,2107.64 716.18,2109.10 717.31,2110.56 718.44,2112.03 719.57,2113.51 720.70,2114.98 721.83,2116.47 722.96,2117.95 724.09,2119.44 725.22,2120.93 726.35,2122.43 727.48,2123.93 728.61,2125.43 729.74,2126.94 730.87,2128.44 732.00,2129.95 733.14,2131.47 734.27,2132.98 735.40,2134.50 736.53,2136.01 737.66,2137.54 738.79,2139.06 739.92,2140.58 741.05,2142.10 742.18,2143.63 743.31,2145.16 744.44,2146.68 745.57,2148.21 746.70,2149.74 747.83,2151.27 748.96,2152.80 750.09,2154.33 751.22,2155.86 752.35,2157.39 753.48,2158.92 754.61,2160.45 755.74,2161.98 756.87,2163.51 758.00,2165.03 759.13,2166.56 760.26,2168.09 761.39,2169.61 762.52,2171.14 763.66,2172.66 764.79,2174.18 765.92,2175.70 767.05,2177.22 768.18,2178.74 769.31,2180.25 770.44,2181.77 771.57,2183.28 772.70,2184.79 773.83,2186.30 774.96,2187.80 776.09,2189.31 777.22,2190.81 778.35,2192.31 779.48,2193.80 780.61,2195.30 781.74,2196.79 782.87,2198.28 784.00,2199.76 785.13,2201.25 786.26,2202.73 787.39,2204.21 788.52,2205.68 789.65,2207.15 790.78,2208.62 791.91,2210.08 793.04,2211.55 794.18,2213.00 795.31,2214.46 796.44,2215.91 797.57,2217.36 798.70,2218.80 799.83,2220.24 800.96,2221.68 802.09,2223.11 803.22,2224.54 804.35,2225.97 805.48,2227.39 806.61,2228.81 807.74,2230.22 808.87,2231.63 810.00,2233.04 811.13,2234.44 812.26,2235.84 813.39,2237.23 814.52,2238.62 815.65,2240.01 816.78,2241.39 817.91,2242.76 819.04,2244.13 820.17,2245.50 821.30,2246.87 822.43,2248.22 823.56,2249.58 824.70,2250.93 825.83,2252.27 826.96,2253.61 828.09,2254.95 829.22,2256.28 830.35,2257.61 831.48,2258.93 832.61,2260.24 833.74,2261.56 834.87,2262.86 836.00,2264.17 837.13,2265.46 838.26,2266.76 839.39,2268.05 840.52,2269.33 841.65,2270.61 842.78,2271.88 843.91,2273.15 845.04,2274.41 846.17,2275.67 847.30,2276.93 848.43,2278.17 849.56,2279.42 850.69,2280.66 851.82,2281.89 852.95,2283.12 854.08,2284.34 855.21,2285.56 856.35,2286.78 857.48,2287.98 858.61,2289.19 859.74,2290.39 860.87,2291.58 862.00,2292.77 863.13,2293.95 864.26,2295.13 865.39,2296.30 866.52,2297.47 867.65,2298.63 868.78,2299.79 869.91,2300.94 871.04,2302.09 872.17,2303.23 873.30,2304.37 874.43,2305.50 875.56,2306.63 876.69,2307.75 877.82,2308.87 878.95,2309.98 880.08,2311.09 881.21,2312.19 882.34,2313.28 883.47,2314.38 884.60,2315.46 885.73,2316.54 886.87,2317.62 888.00,2318.69 889.13,2319.76 890.26,2320.82 891.39,2321.87 892.52,2322.92 893.65,2323.97 894.78,2325.01 895.91,2326.04 897.04,2327.07 898.17,2328.10 899.30,2329.12 900.43,2330.14 901.56,2331.15 902.69,2332.15 903.82,2333.15 904.95,2334.15 906.08,2335.14 907.21,2336.12 908.34,2337.10 909.47,2338.08 910.60,2339.05 911.73,2340.01 912.86,2340.97 913.99,2341.93 915.12,2342.88 916.25,2343.83 917.39,2344.77 918.52,2345.71 919.65,2346.64 920.78,2347.56 921.91,2348.49 923.04,2349.40 924.17,2350.31 925.30,2351.22 926.43,2352.12 927.56,2353.02 928.69,2353.92 929.82,2354.80 930.95,2355.69 932.08,2356.57 933.21,2357.44 934.34,2358.31 935.47,2359.18 936.60,2360.04 937.73,2360.89 938.86,2361.74 939.99,2362.59 941.12,2363.43 942.25,2364.27 943.38,2365.10 944.51,2365.93 945.64,2366.76 946.77,2367.58 947.91,2368.39 949.04,2369.20 950.17,2370.01 951.30,2370.81 952.43,2371.61 953.56,2372.40 954.69,2373.19 955.82,2373.97 956.95,2374.75 958.08,2375.53 959.21,2376.30 960.34,2377.07 961.47,2377.83 962.60,2378.59 963.73,2379.34 964.86,2380.09 965.99,2380.84 967.12,2381.58 968.25,2382.31 969.38,2383.05 970.51,2383.78 971.64,2384.50 972.77,2385.22 973.90,2385.94 975.03,2386.65 976.16,2387.36 977.29,2388.06 978.43,2388.76 979.56,2389.46 980.69,2390.15 981.82,2390.84 982.95,2391.52 984.08,2392.20 985.21,2392.88 986.34,2393.55 987.47,2394.22 988.60,2394.89 989.73,2395.55 990.86,2396.20 991.99,2396.86 993.12,2397.51 994.25,2398.15 995.38,2398.79 996.51,2399.43 997.64,2400.07 998.77,2400.70 999.90,2401.32 1001.03,2401.95 1002.16,2402.57 1003.29,2403.18 1004.42,2403.80 1005.55,2404.40 1006.68,2405.01 1007.81,2405.61 1008.94,2406.21 1010.08,2406.80 1011.21,2407.39 1012.34,2407.98 1013.47,2408.57 1014.60,2409.15 1015.73,2409.72 1016.86,2410.30 1017.99,2410.87 1019.12,2411.43 1020.25,2412.00 1021.38,2412.56 1022.51,2413.11 1023.64,2413.67 1024.77,2414.22 1025.90,2414.76 1027.03,2415.31 1028.16,2415.85 1029.29,2416.38 1030.42,2416.92 1031.55,2417.45 1032.68,2417.98 1033.81,2418.50 1034.94,2419.02 1036.07,2419.54 1037.20,2420.05 1038.33,2420.56 1039.46,2421.07 1040.60,2421.58 1041.73,2422.08 1042.86,2422.58 1043.99,2423.07 1045.12,2423.57 1046.25,2424.06 1047.38,2424.55 1048.51,2425.03 1049.64,2425.51 1050.77,2425.99 1051.90,2426.46 1053.03,2426.94 1054.16,2427.41 1055.29,2427.87 1056.42,2428.34 1057.55,2428.80 1058.68,2429.26 1059.81,2429.71 1060.94,2430.16 1062.07,2430.61 1063.20,2431.06 1064.33,2431.50 1065.46,2431.95 1066.59,2432.38 1067.72,2432.82 1068.85,2433.25 1069.98,2433.68 1071.12,2434.11 1072.25,2434.54 1073.38,2434.96 1074.51,2435.38 1075.64,2435.80 1076.77,2436.21 1077.90,2436.62 1079.03,2437.03 1080.16,2437.44 1081.29,2437.85 1082.42,2438.25 1083.55,2438.65 1084.68,2439.04 1085.81,2439.44 1086.94,2439.83 1088.07,2440.22 1089.20,2440.61 1090.33,2440.99 1091.46,2441.38 1092.59,2441.76 1093.72,2442.13 1094.85,2442.51 1095.98,2442.88 1097.11,2443.25 1098.24,2443.62 1099.37,2443.99 1100.50,2444.35 1101.64,2444.71 1102.77,2445.07 1103.90,2445.43 1105.03,2445.78 1106.16,2446.14 1107.29,2446.49 1108.42,2446.83 1109.55,2447.18 1110.68,2447.52 1111.81,2447.87 1112.94,2448.21 1114.07,2448.54 1115.20,2448.88 1116.33,2449.21 1117.46,2449.54 1118.59,2449.87 1119.72,2450.20 1120.85,2450.52 1121.98,2450.84 1123.11,2451.17 1124.24,2451.48 1125.37,2451.80 1126.50,2452.11 1127.63,2452.43 1128.76,2452.74 1129.89,2453.05 1131.02,2453.35 1132.16,2453.66 1133.29,2453.96 1134.42,2454.26 1135.55,2454.56 1136.68,2454.86 1137.81,2455.15 1138.94,2455.45 1140.07,2455.74 1141.20,2456.03 1142.33,2456.32 1143.46,2456.60 1144.59,2456.89 1145.72,2457.17 1146.85,2457.45 1147.98,2457.73 1149.11,2458.00 1150.24,2458.28 1151.37,2458.55 1152.50,2458.83 1153.63,2459.10 1154.76,2459.36 1155.89,2459.63 1157.02,2459.89 1158.15,2460.16 1159.28,2460.42 1160.41,2460.68 1161.54,2460.94 1162.68,2461.19 1163.81,2461.45 1164.94,2461.70 1166.07,2461.95 1167.20,2462.20 1168.33,2462.45 1169.46,2462.70 1170.59,2462.95 1171.72,2463.19 1172.85,2463.43 1173.98,2463.67 1175.11,2463.91 1176.24,2464.15 1177.37,2464.38 1178.50,2464.62 1179.63,2464.85 1180.76,2465.08 1181.89,2465.31 1183.02,2465.54 1184.15,2465.77 1185.28,2466.00 1186.41,2466.22 1187.54,2466.44 1188.67,2466.66 1189.80,2466.88 1190.93,2467.10 1192.06,2467.32 1193.19,2467.54 1194.33,2467.75 1195.46,2467.96 1196.59,2468.17 1197.72,2468.39 1198.85,2468.59 1199.98,2468.80 1201.11,2469.01 1202.24,2469.21 1203.37,2469.42 1204.50,2469.62 1205.63,2469.82 1206.76,2470.02 1207.89,2470.22 1209.02,2470.42 1210.15,2470.61 1211.28,2470.81 1212.41,2471.00 1213.54,2471.19 1214.67,2471.38 1215.80,2471.57 1216.93,2471.76 1218.06,2471.95 1219.19,2472.13 1220.32,2472.32 1221.45,2472.50 1222.58,2472.69 1223.71,2472.87 1224.85,2473.05 1225.98,2473.23 1227.11,2473.40 1228.24,2473.58 1229.37,2473.76 1230.50,2473.93 1231.63,2474.11 1232.76,2474.28 1233.89,2474.45 1235.02,2474.62 1236.15,2474.79 1237.28,2474.96 1238.41,2475.12 1239.54,2475.29 1240.67,2475.45 1241.80,2475.62 1242.93,2475.78 1244.06,2475.94 1245.19,2476.10 1246.32,2476.26 1247.45,2476.42 1248.58,2476.58 1249.71,2476.73 1250.84,2476.89 1251.97,2477.04 1253.10,2477.20 1254.23,2477.35 1255.37,2477.50 1256.50,2477.65 1257.63,2477.80 1258.76,2477.95 1259.89,2478.10 1261.02,2478.24 1262.15,2478.39 1263.28,2478.53 1264.41,2478.68 1265.54,2478.82 1266.67,2478.96 1267.80,2479.10 1268.93,2479.24 1270.06,2479.38 1271.19,2479.52 1272.32,2479.66 1273.45,2479.80 1274.58,2479.93 1275.71,2480.07 1276.84,2480.20 1277.97,2480.33 1279.10,2480.47 1280.23,2480.60 1281.36,2480.73 1282.49,2480.86 1283.62,2480.99 1284.75,2481.12 1285.89,2481.24 1287.02,2481.37 1288.15,2481.49 1289.28,2481.62 1290.41,2481.74 1291.54,2481.87 1292.67,2481.99 1293.80,2482.11 1294.93,2482.23 1296.06,2482.35 1297.19,2482.47 1298.32,2482.59 1299.45,2482.71 1300.58,2482.82 1301.71,2482.94 1302.84,2483.06 1303.97,2483.17 1305.10,2483.29 1306.23,2483.40 1307.36,2483.51 1308.49,2483.62 1309.62,2483.73 1310.75,2483.85 1311.88,2483.96 1313.01,2484.06 1314.14,2484.17 1315.27,2484.28 1316.41,2484.39 1317.54,2484.49 1318.67,2484.60 1319.80,2484.70 1320.93,2484.81 1322.06,2484.91 1323.19,2485.02 1324.32,2485.12 1325.45,2485.22 1326.58,2485.32 1327.71,2485.42 1328.84,2485.52 1329.97,2485.62 1331.10,2485.72 1332.23,2485.82 1333.36,2485.91 1334.49,2486.01 1335.62,2486.11 1336.75,2486.20 1337.88,2486.30 1339.01,2486.39 1340.14,2486.48 1341.27,2486.58 1342.40,2486.67 1343.53,2486.76 1344.66,2486.85 1345.79,2486.94 1346.92,2487.03 1348.06,2487.12 1349.19,2487.21 1350.32,2487.30 1351.45,2487.39 1352.58,2487.47 1353.71,2487.56 1354.84,2487.65 1355.97,2487.73 1357.10,2487.82 1358.23,2487.90 1359.36,2487.98 1360.49,2488.07 1361.62,2488.15 1362.75,2488.23 1363.88,2488.31 1365.01,2488.40 1366.14,2488.48 1367.27,2488.56 1368.40,2488.64 1369.53,2488.72 1370.66,2488.79 1371.79,2488.87 1372.92,2488.95 1374.05,2489.03 1375.18,2489.10 1376.31,2489.18 1377.44,2489.26 1378.58,2489.33 1379.71,2489.41 1380.84,2489.48 1381.97,2489.55 1383.10,2489.63 1384.23,2489.70 1385.36,2489.77 1386.49,2489.84 1387.62,2489.92 1388.75,2489.99 1389.88,2490.06 1391.01,2490.13 1392.14,2490.20 1393.27,2490.27 1394.40,2490.33 1395.53,2490.40 1396.66,2490.47 1397.79,2490.54 1398.92,2490.61 1400.05,2490.67 1401.18,2490.74 1402.31,2490.80 1403.44,2490.87 1404.57,2490.93 1405.70,2491.00 1406.83,2491.06 1407.96,2491.13 1409.10,2491.19 1410.23,2491.25 1411.36,2491.32 1412.49,2491.38 1413.62,2491.44 1414.75,2491.50 1415.88,2491.56 1417.01,2491.62 1418.14,2491.68 1419.27,2491.74 1420.40,2491.80 1421.53,2491.86 1422.66,2491.92 1423.79,2491.98 1424.92,2492.04 1426.05,2492.09 1427.18,2492.15 1428.31,2492.21 1429.44,2492.26 1430.57,2492.32 1431.70,2492.38 1432.83,2492.43 1433.96,2492.49 1435.09,2492.54 1436.22,2492.60 1437.35,2492.65 1438.48,2492.70 1439.62,2492.76 1440.75,2492.81 1441.88,2492.86 1443.01,2492.92 1444.14,2492.97 1445.27,2493.02 1446.40,2493.07 1447.53,2493.12 1448.66,2493.17 1449.79,2493.22 1450.92,2493.27 1452.05,2493.32 1453.18,2493.37 1454.31,2493.42 1455.44,2493.47 1456.57,2493.52 1457.70,2493.57 1458.83,2493.61 1459.96,2493.66 1461.09,2493.71 1462.22,2493.76 1463.35,2493.80 1464.48,2493.85 1465.61,2493.90 1466.74,2493.94 1467.87,2493.99 1469.00,2494.03 1470.14,2494.08 1471.27,2494.12 1472.40,2494.17 1473.53,2494.21 1474.66,2494.25 1475.79,2494.30 1476.92,2494.34 1478.05,2494.38 1479.18,2494.43 1480.31,2494.47 1481.44,2494.51 1482.57,2494.55 1483.70,2494.60 1484.83,2494.64 1485.96,2494.68 1487.09,2494.72 1488.22,2494.76 1489.35,2494.80 1490.48,2494.84 1491.61,2494.88 1492.74,2494.92 1493.87,2494.96 1495.00,2495.00 1496.13,2495.04 1497.26,2495.08 1498.39,2495.12 1499.52,2495.15 1500.65,2495.19 1501.79,2495.23 1502.92,2495.27 1504.05,2495.30 1505.18,2495.34 1506.31,2495.38 1507.44,2495.41 1508.57,2495.45 1509.70,2495.49 1510.83,2495.52 1511.96,2495.56 1513.09,2495.59 1514.22,2495.63 1515.35,2495.66 1516.48,2495.70 1517.61,2495.73 1518.74,2495.77 1519.87,2495.80 1521.00,2495.84 1522.13,2495.87 1523.26,2495.90 1524.39,2495.94 1525.52,2495.97 1526.65,2496.00 1527.78,2496.04 1528.91,2496.07 1530.04,2496.10 1531.17,2496.13 1532.31,2496.16 1533.44,2496.20 1534.57,2496.23 1535.70,2496.26 1536.83,2496.29 1537.96,2496.32 1539.09,2496.35 1540.22,2496.38 1541.35,2496.41 1542.48,2496.44 1543.61,2496.47 1544.74,2496.50 1545.87,2496.53 1547.00,2496.56 1548.13,2496.59 1549.26,2496.62 1550.39,2496.65 1551.52,2496.68 1552.65,2496.71 1553.78,2496.73 1554.91,2496.76 1556.04,2496.79 1557.17,2496.82 1558.30,2496.85 1559.43,2496.87 1560.56,2496.90 1561.69,2496.93 1562.83,2496.95 1563.96,2496.98 1565.09,2497.01 1566.22,2497.03 1567.35,2497.06 1568.48,2497.09 1569.61,2497.11 1570.74,2497.14 1571.87,2497.16 1573.00,2497.19 1574.13,2497.21 1575.26,2497.24 1576.39,2497.26 1577.52,2497.29 1578.65,2497.31 1579.78,2497.34 1580.91,2497.36 1582.04,2497.39 1583.17,2497.41 1584.30,2497.44 1585.43,2497.46 1586.56,2497.48 1587.69,2497.51 1588.82,2497.53 1589.95,2497.55 1591.08,2497.58 1592.21,2497.60 1593.35,2497.62 1594.48,2497.65 1595.61,2497.67 1596.74,2497.69 1597.87,2497.71 1599.00,2497.73 1600.13,2497.76 1601.26,2497.78 1602.39,2497.80 1603.52,2497.82 1604.65,2497.84 1605.78,2497.86 1606.91,2497.89 1608.04,2497.91 1609.17,2497.93 1610.30,2497.95 1611.43,2497.97 1612.56,2497.99 1613.69,2498.01 1614.82,2498.03 1615.95,2498.05 1617.08,2498.07 1618.21,2498.09 1619.34,2498.11 1620.47,2498.13 1621.60,2498.15 1622.73,2498.17 1623.87,2498.19 1625.00,2498.21 1626.13,2498.23 1627.26,2498.25 1628.39,2498.27 1629.52,2498.28 1630.65,2498.30 1631.78,2498.32 1632.91,2498.34 1634.04,2498.36 1635.17,2498.38 1636.30,2498.39 1637.43,2498.41 1638.56,2498.43 1639.69,2498.45 1640.82,2498.47 1641.95,2498.48 1643.08,2498.50 1644.21,2498.52 1645.34,2498.54 1646.47,2498.55 1647.60,2498.57 1648.73,2498.59 1649.86,2498.60 1650.99,2498.62 1652.12,2498.64 1653.25,2498.65 1654.39,2498.67 1655.52,2498.69 1656.65,2498.70 1657.78,2498.72 1658.91,2498.73 1660.04,2498.75 1661.17,2498.77 1662.30,2498.78 1663.43,2498.80 1664.56,2498.81 1665.69,2498.83 1666.82,2498.84 1667.95,2498.86 1669.08,2498.87 1670.21,2498.89 1671.34,2498.90 1672.47,2498.92 1673.60,2498.93 1674.73,2498.95 1675.86,2498.96 1676.99,2498.98 1678.12,2498.99 1679.25,2499.01 1680.38,2499.02 1681.51,2499.04 1682.64,2499.05 1683.77,2499.06 1684.90,2499.08 1686.04,2499.09 1687.17,2499.10 1688.30,2499.12 1689.43,2499.13 1690.56,2499.15 1691.69,2499.16 1692.82,2499.17 1693.95,2499.19 1695.08,2499.20 1696.21,2499.21 1697.34,2499.23 1698.47,2499.24 1699.60,2499.25 1700.73,2499.26 1701.86,2499.28 1702.99,2499.29 1704.12,2499.30 1705.25,2499.31 1706.38,2499.33 1707.51,2499.34 1708.64,2499.35 1709.77,2499.36 1710.90,2499.38 1712.03,2499.39 1713.16,2499.40 1714.29,2499.41 1715.42,2499.42 1716.56,2499.44 1717.69,2499.45 1718.82,2499.46 1719.95,2499.47 1721.08,2499.48 1722.21,2499.49 1723.34,2499.50 1724.47,2499.52 1725.60,2499.53 1726.73,2499.54 1727.86,2499.55 1728.99,2499.56 1730.12,2499.57 1731.25,2499.58 1732.38,2499.59 1733.51,2499.60 1734.64,2499.61 1735.77,2499.63 1736.90,2499.64 1738.03,2499.65 1739.16,2499.66 1740.29,2499.67 1741.42,2499.68 1742.55,2499.69 1743.68,2499.70 1744.81,2499.71 1745.94,2499.72 1747.08,2499.73 1748.21,2499.74 1749.34,2499.75 1750.47,2499.76 1751.60,2499.77 1752.73,2499.78 1753.86,2499.79 1754.99,2499.80 1756.12,2499.81 1757.25,2499.82 1758.38,2499.83 1759.51,2499.84 1760.64,2499.84 1761.77,2499.85 1762.90,2499.86 1764.03,2499.87 1765.16,2499.88 1766.29,2499.89 1767.42,2499.90 1768.55,2499.91 1769.68,2499.92 1770.81,2499.93 1771.94,2499.94 1773.07,2499.94 1774.20,2499.95 1775.33,2499.96 1776.46,2499.97 1777.60,2499.98 1778.73,2499.99 1779.86,2500.00 1780.99,2500.00 1782.12,2500.01 1783.25,2500.02 1784.38,2500.03 1785.51,2500.04 1786.64,2500.05 1787.77,2500.05 1788.90,2500.06 1790.03,2500.07 1791.16,2500.08 1792.29,2500.09 1793.42,2500.09 1794.55,2500.10 1795.68,2500.11 1796.81,2500.12 1797.94,2500.12 1799.07,2500.13 1800.20,2500.14 1801.33,2500.15 1802.46,2500.15 1803.59,2500.16 1804.72,2500.17 1805.85,2500.18 1806.98,2500.18 1808.12,2500.19 1809.25,2500.20 1810.38,2500.21 1811.51,2500.21 1812.64,2500.22 1813.77,2500.23 1814.90,2500.23 1816.03,2500.24 1817.16,2500.25 1818.29,2500.26 1819.42,2500.26 1820.55,2500.27 1821.68,2500.28 1822.81,2500.28 1823.94,2500.29 1825.07,2500.30 1826.20,2500.30 1827.33,2500.31 1828.46,2500.32 1829.59,2500.32 1830.72,2500.33 1831.85,2500.34 1832.98,2500.34 1834.11,2500.35 1835.24,2500.35 1836.37,2500.36 1837.50,2500.37 1838.63,2500.37 1839.77,2500.38 1840.90,2500.39 1842.03,2500.39 1843.16,2500.40 1844.29,2500.40 1845.42,2500.41 1846.55,2500.42 1847.68,2500.42 1848.81,2500.43 1849.94,2500.43 1851.07,2500.44 1852.20,2500.45 1853.33,2500.45 1854.46,2500.46 1855.59,2500.46 1856.72,2500.47 1857.85,2500.47 1858.98,2500.48 1860.11,2500.49 1861.24,2500.49 1862.37,2500.50 1863.50,2500.50 1864.63,2500.51 1865.76,2500.51 1866.89,2500.52 1868.02,2500.52 1869.15,2500.53 1870.29,2500.53 1871.42,2500.54 1872.55,2500.54 1873.68,2500.55 1874.81,2500.56 1875.94,2500.56 1877.07,2500.57 1878.20,2500.57 1879.33,2500.58 1880.46,2500.58 1881.59,2500.59 1882.72,2500.59 1883.85,2500.60 1884.98,2500.60 1886.11,2500.61 1887.24,2500.61 1888.37,2500.61 1889.50,2500.62 1890.63,2500.62 1891.76,2500.63 1892.89,2500.63 1894.02,2500.64 1895.15,2500.64 1896.28,2500.65 1897.41,2500.65 1898.54,2500.66 1899.67,2500.66 1900.81,2500.67 1901.94,2500.67 1903.07,2500.68 1904.20,2500.68 1905.33,2500.68 1906.46,2500.69 1907.59,2500.69 1908.72,2500.70 1909.85,2500.70 1910.98,2500.71 1912.11,2500.71 1913.24,2500.71 1914.37,2500.72 1915.50,2500.72" fill="none" stroke="#f00" stroke-width="12.0" stroke-linejoin="round" stroke-linecap="butt"/>
<g font-family='"Liberation Sans", Arial, Helvetica, sans-serif' font-weight="700" font-size="76.0" fill="#000">
<text transform="translate(262.5 897.5) scale(0.962 1)" text-anchor="end">0.0</text>
<text transform="translate(262.5 694.4) scale(0.962 1)" text-anchor="end">7.5</text>
<text transform="translate(262.5 491.2) scale(0.962 1)" text-anchor="end">15.0</text>
<text transform="translate(262.5 288.1) scale(0.962 1)" text-anchor="end">22.5</text>
<text transform="translate(262.5 85.0) scale(0.962 1)" text-anchor="end">30.0</text>
<text transform="translate(262.5 1710.0) scale(0.962 1)" text-anchor="end">0.0</text>
<text transform="translate(262.5 1506.9) scale(0.962 1)" text-anchor="end">7.5</text>
<text transform="translate(262.5 1303.8) scale(0.962 1)" text-anchor="end">15.0</text>
<text transform="translate(262.5 1100.6) scale(0.962 1)" text-anchor="end">22.5</text>
<text transform="translate(262.5 2523.0) scale(0.962 1)" text-anchor="end">0.0</text>
<text transform="translate(262.5 2319.8) scale(0.962 1)" text-anchor="end">2.5</text>
<text transform="translate(262.5 2116.5) scale(0.962 1)" text-anchor="end">5.0</text>
<text transform="translate(262.5 1913.2) scale(0.962 1)" text-anchor="end">7.5</text>
<text transform="translate(315.0 2611) scale(0.962 1)" text-anchor="middle">0</text>
<text transform="translate(543.4 2611) scale(0.962 1)" text-anchor="middle">10</text>
<text transform="translate(771.7 2611) scale(0.962 1)" text-anchor="middle">20</text>
<text transform="translate(1000.1 2611) scale(0.962 1)" text-anchor="middle">30</text>
<text transform="translate(1228.4 2611) scale(0.962 1)" text-anchor="middle">40</text>
<text transform="translate(1456.8 2611) scale(0.962 1)" text-anchor="middle">50</text>
<text transform="translate(1685.1 2611) scale(0.962 1)" text-anchor="middle">60</text>
<text transform="translate(1913.5 2611) scale(0.962 1)" text-anchor="middle">70</text>
<text transform="translate(1116 2690) scale(0.97 1)" text-anchor="middle">Particle size, nm</text>
<text transform="translate(101.0 469.2) rotate(-90) scale(0.97 1)" text-anchor="middle">Number fraction, %</text>
<text transform="translate(98.3 1281.2) rotate(-90) scale(0.97 1)" text-anchor="middle">Number fraction, %</text>
<text transform="translate(103.5 2095.7) rotate(-90) scale(0.97 1)" text-anchor="middle">Number fraction, %</text>
</g>
<rect x="1164.8" y="63.2" width="750.7" height="296.6" fill="#fff"/>
<line x1="1164.8" y1="208.3" x2="1340" y2="208.3" stroke="#f00" stroke-width="12.5"/><circle cx="1340" cy="208.3" r="6.25" fill="#f00"/>
<rect x="1164.8" y="63.2" width="750.7" height="296.6" fill="none" stroke="#000" stroke-width="8.0"/>
<text x="1173.5" y="141.5" font-family='"Liberation Sans", Arial, Helvetica, sans-serif' font-weight="700" font-size="74.5">Pt in Argon</text>
<text x="1360" y="232.1" font-family='"Liberation Sans", Arial, Helvetica, sans-serif' font-size="73.5">Lognormal fitting</text>
<text transform="translate(1173 333.3) scale(1.18 1)" font-family='"Liberation Serif", "DejaVu Serif", serif' font-style="italic" font-size="77.5">μ</text>
<text transform="translate(1531.0 333.3) scale(1.12 1)" font-family='"Liberation Serif", "DejaVu Serif", serif' font-style="italic" font-size="82.5">σ</text>
<text y="333.3" font-size="73.5" font-family='"Liberation Sans", Arial, Helvetica, sans-serif'><tspan x="1217.5">=5.5 nm, </tspan><tspan x="1584.5">=1.8 nm</tspan></text>
<rect x="1164.8" y="880.0" width="750.7" height="295.3" fill="#fff"/>
<line x1="1164.8" y1="1023.8" x2="1340" y2="1023.8" stroke="#f00" stroke-width="12.5"/><circle cx="1340" cy="1023.8" r="6.25" fill="#f00"/>
<rect x="1164.8" y="880.0" width="750.7" height="295.3" fill="none" stroke="#000" stroke-width="8.0"/>
<text x="1173.5" y="957.0" font-family='"Liberation Sans", Arial, Helvetica, sans-serif' font-weight="700" font-size="74.5">Pt in Nitrogen</text>
<text x="1360" y="1047.6" font-family='"Liberation Sans", Arial, Helvetica, sans-serif' font-size="73.5">Lognormal fitting</text>
<text transform="translate(1173 1148.8) scale(1.18 1)" font-family='"Liberation Serif", "DejaVu Serif", serif' font-style="italic" font-size="77.5">μ</text>
<text transform="translate(1531.0 1148.8) scale(1.12 1)" font-family='"Liberation Serif", "DejaVu Serif", serif' font-style="italic" font-size="82.5">σ</text>
<text y="1148.8" font-size="73.5" font-family='"Liberation Sans", Arial, Helvetica, sans-serif'><tspan x="1217.5">=7.1 nm, </tspan><tspan x="1584.5">=2.4 nm</tspan></text>
<rect x="1164.8" y="1692.5" width="750.7" height="295.3" fill="#fff"/>
<line x1="1164.8" y1="1836.3" x2="1340" y2="1836.3" stroke="#f00" stroke-width="12.5"/><circle cx="1340" cy="1836.3" r="6.25" fill="#f00"/>
<rect x="1164.8" y="1692.5" width="750.7" height="295.3" fill="none" stroke="#000" stroke-width="8.0"/>
<text x="1173.5" y="1769.5" font-family='"Liberation Sans", Arial, Helvetica, sans-serif' font-weight="700" font-size="74.5">Pt in Air</text>
<text x="1360" y="1860.1" font-family='"Liberation Sans", Arial, Helvetica, sans-serif' font-size="73.5">Lognormal fitting</text>
<text transform="translate(1173 1961.3) scale(1.18 1)" font-family='"Liberation Serif", "DejaVu Serif", serif' font-style="italic" font-size="77.5">μ</text>
<text transform="translate(1571.8 1961.3) scale(1.12 1)" font-family='"Liberation Serif", "DejaVu Serif", serif' font-style="italic" font-size="82.5">σ</text>
<text y="1961.3" font-size="73.5" font-family='"Liberation Sans", Arial, Helvetica, sans-serif'><tspan x="1217.5">=18.2 nm, </tspan><tspan x="1625.3">=9.0 nm</tspan></text>
</svg>
</body></html>
